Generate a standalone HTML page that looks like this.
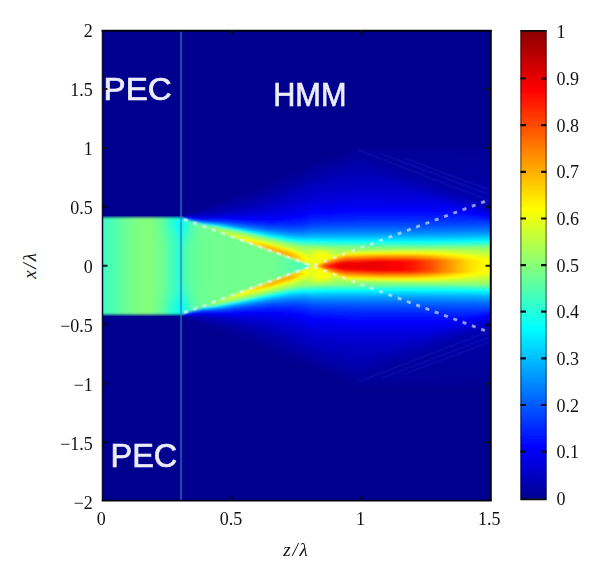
<!DOCTYPE html>
<html lang="en"><head><meta charset="utf-8"><title>Field intensity |E| in slit / HMM</title>
<style>html,body{margin:0;padding:0;background:#fff}body{width:600px;height:582px;overflow:hidden}svg{display:block}.t{font-family:"Liberation Serif","DejaVu Serif",serif;font-size:18px;fill:#111}.i{font-family:"Liberation Serif","DejaVu Serif",serif;font-size:19px;font-style:italic;fill:#111}.w{font-family:"Liberation Sans","DejaVu Sans",sans-serif;fill:#ececfa;stroke:#ececfa;stroke-width:0.7px}</style></head><body>
<svg width="600" height="582" viewBox="0 0 600 582">
<defs>
<clipPath id="cp"><rect x="102" y="30" width="389" height="471"/></clipPath>
<filter id="bl" x="-5%" y="-5%" width="110%" height="110%"><feGaussianBlur stdDeviation="0.9"/></filter>
<filter id="b2" x="-5%" y="-5%" width="110%" height="110%"><feGaussianBlur stdDeviation="0.55"/></filter>
<filter id="b3" x="-20%" y="-20%" width="140%" height="140%"><feGaussianBlur stdDeviation="0.45"/></filter>
<linearGradient id="cb" x1="0" y1="1" x2="0" y2="0"><stop offset="0" stop-color="#00008f"/><stop offset="0.1111" stop-color="#0000ff"/><stop offset="0.3651" stop-color="#00ffff"/><stop offset="0.619" stop-color="#ffff00"/><stop offset="0.873" stop-color="#ff0000"/><stop offset="1" stop-color="#8a0000"/></linearGradient>
<linearGradient id="g0" gradientUnits="userSpaceOnUse" x1="99" x2="494" y1="0" y2="0"><stop offset="0" stop-color="#3cffc3"/><stop offset="0.0076" stop-color="#3cffc3"/><stop offset="0.0329" stop-color="#4bffb4"/><stop offset="0.0658" stop-color="#69ff96"/><stop offset="0.0987" stop-color="#7fff80"/><stop offset="0.1291" stop-color="#84ff7b"/><stop offset="0.1595" stop-color="#6eff91"/><stop offset="0.2051" stop-color="#27ffd8"/><stop offset="0.2076" stop-color="#37ffc8"/><stop offset="0.2304" stop-color="#5fffa0"/><stop offset="0.2684" stop-color="#6eff91"/><stop offset="0.4329" stop-color="#73ff8c"/><stop offset="0.4962" stop-color="#5fa"/><stop offset="0.519" stop-color="#4fb"/><stop offset="0.5241" stop-color="#4effb1"/><stop offset="0.5316" stop-color="#70ff8f"/><stop offset="0.5367" stop-color="#c8ff37"/><stop offset="0.5392" stop-color="#d6ff29"/><stop offset="0.5443" stop-color="#e2ff1d"/><stop offset="0.5468" stop-color="#f9ff06"/><stop offset="0.5494" stop-color="#ffec00"/><stop offset="0.5544" stop-color="#ffb700"/><stop offset="0.562" stop-color="#f70"/><stop offset="0.5671" stop-color="#ff5200"/><stop offset="0.5722" stop-color="#ff3500"/><stop offset="0.6025" stop-color="#fc0000"/><stop offset="0.6101" stop-color="#e00"/><stop offset="0.7114" stop-color="#e00"/><stop offset="0.7544" stop-color="#f00"/><stop offset="0.7873" stop-color="#ff0d00"/><stop offset="0.838" stop-color="#ff4900"/><stop offset="0.8886" stop-color="#ff9a00"/><stop offset="0.9392" stop-color="#ffe000"/><stop offset="0.9797" stop-color="#ff0"/><stop offset="0.9924" stop-color="#f6ff09"/><stop offset="1" stop-color="#f6ff09"/></linearGradient>
<linearGradient id="g1" gradientUnits="userSpaceOnUse" x1="99" x2="494" y1="0" y2="0"><stop offset="0" stop-color="#3cffc3"/><stop offset="0.0076" stop-color="#3cffc3"/><stop offset="0.0329" stop-color="#4bffb4"/><stop offset="0.0658" stop-color="#69ff96"/><stop offset="0.0987" stop-color="#7fff80"/><stop offset="0.1291" stop-color="#84ff7b"/><stop offset="0.1595" stop-color="#6eff91"/><stop offset="0.2051" stop-color="#27ffd8"/><stop offset="0.2076" stop-color="#37ffc8"/><stop offset="0.2304" stop-color="#5fffa0"/><stop offset="0.2684" stop-color="#6eff91"/><stop offset="0.4329" stop-color="#73ff8c"/><stop offset="0.4962" stop-color="#5fa"/><stop offset="0.519" stop-color="#4fb"/><stop offset="0.5215" stop-color="#47ffb8"/><stop offset="0.5266" stop-color="#57ffa8"/><stop offset="0.5291" stop-color="#b3ff4c"/><stop offset="0.5342" stop-color="#d8ff27"/><stop offset="0.5392" stop-color="#ebff14"/><stop offset="0.5494" stop-color="#f1ff0e"/><stop offset="0.5519" stop-color="#fbff04"/><stop offset="0.5544" stop-color="#ffed00"/><stop offset="0.562" stop-color="#ffa700"/><stop offset="0.5722" stop-color="#f50"/><stop offset="0.5873" stop-color="#ff1b00"/><stop offset="0.6025" stop-color="#fc0000"/><stop offset="0.6101" stop-color="#e00"/><stop offset="0.7114" stop-color="#e00"/><stop offset="0.7544" stop-color="#f00"/><stop offset="0.7873" stop-color="#ff0d00"/><stop offset="0.838" stop-color="#ff4900"/><stop offset="0.8886" stop-color="#ff9a00"/><stop offset="0.9392" stop-color="#ffe000"/><stop offset="0.9797" stop-color="#ff0"/><stop offset="0.9924" stop-color="#f6ff09"/><stop offset="1" stop-color="#f6ff09"/></linearGradient>
<linearGradient id="g2" gradientUnits="userSpaceOnUse" x1="99" x2="494" y1="0" y2="0"><stop offset="0" stop-color="#3cffc3"/><stop offset="0.0076" stop-color="#3cffc3"/><stop offset="0.0329" stop-color="#4bffb4"/><stop offset="0.0658" stop-color="#69ff96"/><stop offset="0.0987" stop-color="#7fff80"/><stop offset="0.1291" stop-color="#84ff7b"/><stop offset="0.1595" stop-color="#6eff91"/><stop offset="0.2051" stop-color="#27ffd8"/><stop offset="0.2076" stop-color="#37ffc8"/><stop offset="0.2304" stop-color="#5fffa0"/><stop offset="0.2684" stop-color="#6eff91"/><stop offset="0.4329" stop-color="#73ff8c"/><stop offset="0.4962" stop-color="#5fa"/><stop offset="0.519" stop-color="#4fb"/><stop offset="0.5215" stop-color="#47ffb8"/><stop offset="0.5241" stop-color="#bcff43"/><stop offset="0.5291" stop-color="#e5ff1a"/><stop offset="0.5316" stop-color="#f2ff0d"/><stop offset="0.5392" stop-color="#ebff14"/><stop offset="0.557" stop-color="#f7ff08"/><stop offset="0.5595" stop-color="#fff000"/><stop offset="0.5722" stop-color="#ff8100"/><stop offset="0.5747" stop-color="#ff7400"/><stop offset="0.5873" stop-color="#ff3e00"/><stop offset="0.6051" stop-color="#ff0200"/><stop offset="0.6076" stop-color="#f80000"/><stop offset="0.6101" stop-color="#f00000"/><stop offset="0.6127" stop-color="#e00"/><stop offset="0.7114" stop-color="#e00"/><stop offset="0.7544" stop-color="#f00"/><stop offset="0.7873" stop-color="#ff0d00"/><stop offset="0.838" stop-color="#ff4900"/><stop offset="0.8886" stop-color="#ff9a00"/><stop offset="0.9392" stop-color="#ffe000"/><stop offset="0.9797" stop-color="#ff0"/><stop offset="0.9924" stop-color="#f6ff09"/><stop offset="1" stop-color="#f6ff09"/></linearGradient>
<linearGradient id="g3" gradientUnits="userSpaceOnUse" x1="99" x2="494" y1="0" y2="0"><stop offset="0" stop-color="#3cffc3"/><stop offset="0.0076" stop-color="#3cffc3"/><stop offset="0.0329" stop-color="#4bffb4"/><stop offset="0.0658" stop-color="#69ff96"/><stop offset="0.0987" stop-color="#7fff80"/><stop offset="0.1291" stop-color="#84ff7b"/><stop offset="0.1595" stop-color="#6eff91"/><stop offset="0.2051" stop-color="#27ffd8"/><stop offset="0.2076" stop-color="#37ffc8"/><stop offset="0.2304" stop-color="#5fffa0"/><stop offset="0.2684" stop-color="#6eff91"/><stop offset="0.4329" stop-color="#73ff8c"/><stop offset="0.4962" stop-color="#5fa"/><stop offset="0.5139" stop-color="#46ffb9"/><stop offset="0.5165" stop-color="#b6ff49"/><stop offset="0.5215" stop-color="#eaff15"/><stop offset="0.5241" stop-color="#feff01"/><stop offset="0.5266" stop-color="#feff01"/><stop offset="0.5392" stop-color="#ebff14"/><stop offset="0.562" stop-color="#faff05"/><stop offset="0.5646" stop-color="#fff100"/><stop offset="0.5722" stop-color="#ffad00"/><stop offset="0.5848" stop-color="#ff6b00"/><stop offset="0.6101" stop-color="#ff1200"/><stop offset="0.6228" stop-color="#fd0000"/><stop offset="0.6532" stop-color="#e00"/><stop offset="0.7114" stop-color="#e00"/><stop offset="0.7544" stop-color="#f00"/><stop offset="0.7873" stop-color="#ff0d00"/><stop offset="0.838" stop-color="#ff4900"/><stop offset="0.8886" stop-color="#ff9a00"/><stop offset="0.9392" stop-color="#ffe000"/><stop offset="0.9797" stop-color="#ff0"/><stop offset="0.9924" stop-color="#f6ff09"/><stop offset="1" stop-color="#f6ff09"/></linearGradient>
<linearGradient id="g4" gradientUnits="userSpaceOnUse" x1="99" x2="494" y1="0" y2="0"><stop offset="0" stop-color="#3cffc3"/><stop offset="0.0076" stop-color="#3cffc3"/><stop offset="0.0329" stop-color="#4bffb4"/><stop offset="0.0658" stop-color="#69ff96"/><stop offset="0.0987" stop-color="#7fff80"/><stop offset="0.1291" stop-color="#84ff7b"/><stop offset="0.1595" stop-color="#6eff91"/><stop offset="0.2051" stop-color="#27ffd8"/><stop offset="0.2076" stop-color="#37ffc8"/><stop offset="0.2304" stop-color="#5fffa0"/><stop offset="0.2684" stop-color="#6eff91"/><stop offset="0.4329" stop-color="#73ff8c"/><stop offset="0.4962" stop-color="#5fa"/><stop offset="0.5063" stop-color="#4dffb2"/><stop offset="0.5089" stop-color="#b3ff4c"/><stop offset="0.5139" stop-color="#f0ff0f"/><stop offset="0.5165" stop-color="#fff400"/><stop offset="0.519" stop-color="#ffef00"/><stop offset="0.5241" stop-color="#fffc00"/><stop offset="0.5392" stop-color="#eaff15"/><stop offset="0.5671" stop-color="#fdff02"/><stop offset="0.5696" stop-color="#fff000"/><stop offset="0.5747" stop-color="#ffc800"/><stop offset="0.5848" stop-color="#ff8f00"/><stop offset="0.6101" stop-color="#f30"/><stop offset="0.6228" stop-color="#ff1c00"/><stop offset="0.681" stop-color="#fe0000"/><stop offset="0.7114" stop-color="#e00"/><stop offset="0.7544" stop-color="#f00"/><stop offset="0.7873" stop-color="#ff0d00"/><stop offset="0.838" stop-color="#ff4900"/><stop offset="0.8886" stop-color="#ff9a00"/><stop offset="0.9392" stop-color="#ffe000"/><stop offset="0.9797" stop-color="#ff0"/><stop offset="0.9924" stop-color="#f6ff09"/><stop offset="1" stop-color="#f6ff09"/></linearGradient>
<linearGradient id="g5" gradientUnits="userSpaceOnUse" x1="99" x2="494" y1="0" y2="0"><stop offset="0" stop-color="#3cffc3"/><stop offset="0.0076" stop-color="#3cffc3"/><stop offset="0.0329" stop-color="#4bffb4"/><stop offset="0.0658" stop-color="#69ff96"/><stop offset="0.0987" stop-color="#7fff80"/><stop offset="0.1291" stop-color="#84ff7b"/><stop offset="0.1595" stop-color="#6eff91"/><stop offset="0.2051" stop-color="#27ffd8"/><stop offset="0.2076" stop-color="#37ffc8"/><stop offset="0.2304" stop-color="#5fffa0"/><stop offset="0.2684" stop-color="#6eff91"/><stop offset="0.4329" stop-color="#73ff8c"/><stop offset="0.4987" stop-color="#53ffac"/><stop offset="0.5013" stop-color="#adff52"/><stop offset="0.5063" stop-color="#f5ff0a"/><stop offset="0.5089" stop-color="#ffea00"/><stop offset="0.5114" stop-color="#ffe000"/><stop offset="0.5241" stop-color="#fffd00"/><stop offset="0.5392" stop-color="#eaff15"/><stop offset="0.5696" stop-color="#feff01"/><stop offset="0.5722" stop-color="#fffe00"/><stop offset="0.5848" stop-color="#ffb200"/><stop offset="0.6" stop-color="#ff7800"/><stop offset="0.6101" stop-color="#ff5400"/><stop offset="0.6228" stop-color="#ff3a00"/><stop offset="0.7114" stop-color="#ff0f00"/><stop offset="0.7873" stop-color="#ff1e00"/><stop offset="0.838" stop-color="#ff5100"/><stop offset="0.9392" stop-color="#ffe000"/><stop offset="0.9797" stop-color="#ff0"/><stop offset="0.9924" stop-color="#f6ff09"/><stop offset="1" stop-color="#f6ff09"/></linearGradient>
<linearGradient id="g6" gradientUnits="userSpaceOnUse" x1="99" x2="494" y1="0" y2="0"><stop offset="0" stop-color="#3cffc3"/><stop offset="0.0076" stop-color="#3cffc3"/><stop offset="0.0329" stop-color="#4bffb4"/><stop offset="0.0658" stop-color="#69ff96"/><stop offset="0.0987" stop-color="#7fff80"/><stop offset="0.1291" stop-color="#84ff7b"/><stop offset="0.1595" stop-color="#6eff91"/><stop offset="0.2051" stop-color="#27ffd8"/><stop offset="0.2076" stop-color="#37ffc8"/><stop offset="0.2304" stop-color="#5fffa0"/><stop offset="0.2684" stop-color="#6eff91"/><stop offset="0.4329" stop-color="#73ff8c"/><stop offset="0.4937" stop-color="#56ffa9"/><stop offset="0.4962" stop-color="#d0ff2f"/><stop offset="0.4987" stop-color="#f8ff07"/><stop offset="0.5013" stop-color="#ffe100"/><stop offset="0.5038" stop-color="#ffcf00"/><stop offset="0.5241" stop-color="#ff0"/><stop offset="0.5316" stop-color="#f0ff0f"/><stop offset="0.5392" stop-color="#e9ff16"/><stop offset="0.5696" stop-color="#feff01"/><stop offset="0.5722" stop-color="#fffe00"/><stop offset="0.5772" stop-color="#f6ff09"/><stop offset="0.5797" stop-color="#fff600"/><stop offset="0.5848" stop-color="#ffd600"/><stop offset="0.6101" stop-color="#ff7500"/><stop offset="0.6228" stop-color="#ff5800"/><stop offset="0.7114" stop-color="#ff2f00"/><stop offset="0.7873" stop-color="#ff3b00"/><stop offset="0.838" stop-color="#ff6900"/><stop offset="0.9392" stop-color="#ffe900"/><stop offset="0.9722" stop-color="#ff0"/><stop offset="0.9924" stop-color="#f2ff0d"/><stop offset="1" stop-color="#f2ff0d"/></linearGradient>
<linearGradient id="g7" gradientUnits="userSpaceOnUse" x1="99" x2="494" y1="0" y2="0"><stop offset="0" stop-color="#3cffc3"/><stop offset="0.0076" stop-color="#3cffc3"/><stop offset="0.0329" stop-color="#4bffb4"/><stop offset="0.0658" stop-color="#69ff96"/><stop offset="0.0987" stop-color="#7fff80"/><stop offset="0.1291" stop-color="#84ff7b"/><stop offset="0.1595" stop-color="#6eff91"/><stop offset="0.2051" stop-color="#27ffd8"/><stop offset="0.2076" stop-color="#37ffc8"/><stop offset="0.2304" stop-color="#5fffa0"/><stop offset="0.2684" stop-color="#6eff91"/><stop offset="0.4329" stop-color="#73ff8c"/><stop offset="0.4861" stop-color="#5affa5"/><stop offset="0.4886" stop-color="#cbff34"/><stop offset="0.4911" stop-color="#faff05"/><stop offset="0.4937" stop-color="#ffda00"/><stop offset="0.4962" stop-color="#ffbf00"/><stop offset="0.5165" stop-color="#fff100"/><stop offset="0.5241" stop-color="#fdff02"/><stop offset="0.5392" stop-color="#e7ff18"/><stop offset="0.5696" stop-color="#feff01"/><stop offset="0.5722" stop-color="#fffe00"/><stop offset="0.5797" stop-color="#f1ff0e"/><stop offset="0.5823" stop-color="#f3ff0c"/><stop offset="0.5848" stop-color="#fffa00"/><stop offset="0.6101" stop-color="#ff9500"/><stop offset="0.6228" stop-color="#ff7600"/><stop offset="0.7114" stop-color="#ff4f00"/><stop offset="0.7873" stop-color="#ff5900"/><stop offset="0.838" stop-color="#ff8100"/><stop offset="0.9392" stop-color="#fff500"/><stop offset="0.957" stop-color="#ff0"/><stop offset="0.9924" stop-color="#e9ff16"/><stop offset="1" stop-color="#e9ff16"/></linearGradient>
<linearGradient id="g8" gradientUnits="userSpaceOnUse" x1="99" x2="494" y1="0" y2="0"><stop offset="0" stop-color="#3cffc3"/><stop offset="0.0076" stop-color="#3cffc3"/><stop offset="0.0329" stop-color="#4bffb4"/><stop offset="0.0658" stop-color="#69ff96"/><stop offset="0.0987" stop-color="#7fff80"/><stop offset="0.1291" stop-color="#84ff7b"/><stop offset="0.1595" stop-color="#6eff91"/><stop offset="0.2051" stop-color="#27ffd8"/><stop offset="0.2076" stop-color="#37ffc8"/><stop offset="0.2304" stop-color="#5fffa0"/><stop offset="0.2684" stop-color="#6eff91"/><stop offset="0.4329" stop-color="#73ff8c"/><stop offset="0.4785" stop-color="#5effa1"/><stop offset="0.481" stop-color="#c2ff3d"/><stop offset="0.4835" stop-color="#f9ff06"/><stop offset="0.4861" stop-color="#ffd400"/><stop offset="0.4886" stop-color="#ffaf00"/><stop offset="0.5215" stop-color="#fffe00"/><stop offset="0.5316" stop-color="#e9ff16"/><stop offset="0.5392" stop-color="#e2ff1d"/><stop offset="0.5544" stop-color="#f5ff0a"/><stop offset="0.5696" stop-color="#feff01"/><stop offset="0.5722" stop-color="#fffe00"/><stop offset="0.5848" stop-color="#e7ff18"/><stop offset="0.5873" stop-color="#ecff13"/><stop offset="0.5899" stop-color="#f6ff09"/><stop offset="0.5924" stop-color="#fffd00"/><stop offset="0.6101" stop-color="#ffb600"/><stop offset="0.6228" stop-color="#ff9500"/><stop offset="0.7114" stop-color="#ff6f00"/><stop offset="0.7873" stop-color="#ff7600"/><stop offset="0.838" stop-color="#f90"/><stop offset="0.9367" stop-color="#fffe00"/><stop offset="0.9924" stop-color="#e1ff1e"/><stop offset="1" stop-color="#e1ff1e"/></linearGradient>
<linearGradient id="g9" gradientUnits="userSpaceOnUse" x1="99" x2="494" y1="0" y2="0"><stop offset="0" stop-color="#3cffc3"/><stop offset="0.0076" stop-color="#3cffc3"/><stop offset="0.0329" stop-color="#4bffb4"/><stop offset="0.0658" stop-color="#69ff96"/><stop offset="0.0987" stop-color="#7fff80"/><stop offset="0.1291" stop-color="#84ff7b"/><stop offset="0.1595" stop-color="#6eff91"/><stop offset="0.2051" stop-color="#27ffd8"/><stop offset="0.2076" stop-color="#37ffc8"/><stop offset="0.2304" stop-color="#5fffa0"/><stop offset="0.2684" stop-color="#6eff91"/><stop offset="0.4329" stop-color="#73ff8c"/><stop offset="0.4709" stop-color="#61ff9e"/><stop offset="0.4734" stop-color="#b3ff4c"/><stop offset="0.4759" stop-color="#ebff14"/><stop offset="0.4785" stop-color="#ffdb00"/><stop offset="0.481" stop-color="#ffa400"/><stop offset="0.4835" stop-color="#ffa500"/><stop offset="0.519" stop-color="#fdff02"/><stop offset="0.5291" stop-color="#e4ff1b"/><stop offset="0.5367" stop-color="#deff21"/><stop offset="0.5544" stop-color="#f5ff0a"/><stop offset="0.5722" stop-color="#fffe00"/><stop offset="0.5899" stop-color="#df2"/><stop offset="0.5924" stop-color="#deff21"/><stop offset="0.6" stop-color="#feff01"/><stop offset="0.6101" stop-color="#ffd700"/><stop offset="0.6228" stop-color="#ffb300"/><stop offset="0.7114" stop-color="#ff8f00"/><stop offset="0.7873" stop-color="#ff9300"/><stop offset="0.838" stop-color="#ffb100"/><stop offset="0.9241" stop-color="#ff0"/><stop offset="0.9392" stop-color="#f2ff0d"/><stop offset="0.9924" stop-color="#d8ff27"/><stop offset="1" stop-color="#d8ff27"/></linearGradient>
<linearGradient id="g10" gradientUnits="userSpaceOnUse" x1="99" x2="494" y1="0" y2="0"><stop offset="0" stop-color="#3cffc3"/><stop offset="0.0076" stop-color="#3cffc3"/><stop offset="0.0329" stop-color="#4bffb4"/><stop offset="0.0658" stop-color="#69ff96"/><stop offset="0.0987" stop-color="#7fff80"/><stop offset="0.1291" stop-color="#84ff7b"/><stop offset="0.1595" stop-color="#6eff91"/><stop offset="0.2051" stop-color="#27ffd8"/><stop offset="0.2076" stop-color="#37ffc8"/><stop offset="0.2304" stop-color="#5fffa0"/><stop offset="0.2684" stop-color="#6eff91"/><stop offset="0.4329" stop-color="#73ff8c"/><stop offset="0.4658" stop-color="#64ff9b"/><stop offset="0.4684" stop-color="#df2"/><stop offset="0.4709" stop-color="#ffe800"/><stop offset="0.4734" stop-color="#ffaf00"/><stop offset="0.4759" stop-color="#ffa600"/><stop offset="0.4835" stop-color="#fa0"/><stop offset="0.5063" stop-color="#ffe200"/><stop offset="0.5139" stop-color="#feff01"/><stop offset="0.5241" stop-color="#e1ff1e"/><stop offset="0.5342" stop-color="#d8ff27"/><stop offset="0.5392" stop-color="#daff25"/><stop offset="0.5544" stop-color="#f5ff0a"/><stop offset="0.5722" stop-color="#fffe00"/><stop offset="0.5873" stop-color="#e2ff1d"/><stop offset="0.5949" stop-color="#ceff31"/><stop offset="0.5975" stop-color="#d1ff2e"/><stop offset="0.6076" stop-color="#fcff03"/><stop offset="0.6101" stop-color="#fff800"/><stop offset="0.6228" stop-color="#ffd100"/><stop offset="0.7114" stop-color="#ffaf00"/><stop offset="0.7873" stop-color="#ffb000"/><stop offset="0.838" stop-color="#ffc900"/><stop offset="0.9063" stop-color="#ff0"/><stop offset="0.9392" stop-color="#e6ff19"/><stop offset="1" stop-color="#d0ff2f"/></linearGradient>
<linearGradient id="g11" gradientUnits="userSpaceOnUse" x1="99" x2="494" y1="0" y2="0"><stop offset="0" stop-color="#3cffc3"/><stop offset="0.0076" stop-color="#3cffc3"/><stop offset="0.0329" stop-color="#4bffb4"/><stop offset="0.0658" stop-color="#69ff96"/><stop offset="0.0987" stop-color="#7fff80"/><stop offset="0.1291" stop-color="#84ff7b"/><stop offset="0.1595" stop-color="#6eff91"/><stop offset="0.2051" stop-color="#27ffd8"/><stop offset="0.2076" stop-color="#37ffc8"/><stop offset="0.2304" stop-color="#5fffa0"/><stop offset="0.2684" stop-color="#6eff91"/><stop offset="0.4329" stop-color="#73ff8c"/><stop offset="0.4582" stop-color="#67ff98"/><stop offset="0.4608" stop-color="#cfff30"/><stop offset="0.4633" stop-color="#fff500"/><stop offset="0.4658" stop-color="#fb0"/><stop offset="0.4684" stop-color="#ffa800"/><stop offset="0.4835" stop-color="#ffae00"/><stop offset="0.4962" stop-color="#ffcd00"/><stop offset="0.5089" stop-color="#feff01"/><stop offset="0.5165" stop-color="#e4ff1b"/><stop offset="0.5215" stop-color="#d8ff27"/><stop offset="0.5316" stop-color="#d0ff2f"/><stop offset="0.5392" stop-color="#d6ff29"/><stop offset="0.5544" stop-color="#f4ff0b"/><stop offset="0.5722" stop-color="#fffe00"/><stop offset="0.6" stop-color="#bf4"/><stop offset="0.6177" stop-color="#ff0"/><stop offset="0.6228" stop-color="#ffef00"/><stop offset="0.7114" stop-color="#ffcf00"/><stop offset="0.7873" stop-color="#ffcd00"/><stop offset="0.838" stop-color="#ffe100"/><stop offset="0.8835" stop-color="#ff0"/><stop offset="0.9392" stop-color="#daff25"/><stop offset="1" stop-color="#c7ff38"/></linearGradient>
<linearGradient id="g12" gradientUnits="userSpaceOnUse" x1="99" x2="494" y1="0" y2="0"><stop offset="0" stop-color="#3cffc3"/><stop offset="0.0076" stop-color="#3cffc3"/><stop offset="0.0329" stop-color="#4bffb4"/><stop offset="0.0658" stop-color="#69ff96"/><stop offset="0.0987" stop-color="#7fff80"/><stop offset="0.1291" stop-color="#84ff7b"/><stop offset="0.1595" stop-color="#6eff91"/><stop offset="0.2051" stop-color="#27ffd8"/><stop offset="0.2076" stop-color="#37ffc8"/><stop offset="0.2304" stop-color="#5fffa0"/><stop offset="0.2684" stop-color="#6eff91"/><stop offset="0.4329" stop-color="#73ff8c"/><stop offset="0.4506" stop-color="#6bff94"/><stop offset="0.4532" stop-color="#bfff40"/><stop offset="0.4557" stop-color="#fcff03"/><stop offset="0.4582" stop-color="#ffc700"/><stop offset="0.4608" stop-color="#ffa900"/><stop offset="0.4835" stop-color="#ffb200"/><stop offset="0.4886" stop-color="#ffbf00"/><stop offset="0.4987" stop-color="#fe0"/><stop offset="0.5038" stop-color="#fcff03"/><stop offset="0.5165" stop-color="#d3ff2c"/><stop offset="0.5266" stop-color="#c6ff39"/><stop offset="0.5367" stop-color="#ceff31"/><stop offset="0.5544" stop-color="#f4ff0b"/><stop offset="0.562" stop-color="#f7ff08"/><stop offset="0.5722" stop-color="#f2ff0d"/><stop offset="0.5899" stop-color="#c7ff38"/><stop offset="0.6051" stop-color="#aeff51"/><stop offset="0.6228" stop-color="#f1ff0e"/><stop offset="0.6658" stop-color="#ff0"/><stop offset="0.7114" stop-color="#ffef00"/><stop offset="0.7873" stop-color="#ffea00"/><stop offset="0.8506" stop-color="#ff0"/><stop offset="0.9392" stop-color="#ceff31"/><stop offset="1" stop-color="#bfff40"/></linearGradient>
<linearGradient id="g13" gradientUnits="userSpaceOnUse" x1="99" x2="494" y1="0" y2="0"><stop offset="0" stop-color="#3cffc3"/><stop offset="0.0076" stop-color="#3cffc3"/><stop offset="0.0329" stop-color="#4bffb4"/><stop offset="0.0658" stop-color="#69ff96"/><stop offset="0.0987" stop-color="#7fff80"/><stop offset="0.1291" stop-color="#84ff7b"/><stop offset="0.1595" stop-color="#6eff91"/><stop offset="0.2051" stop-color="#27ffd8"/><stop offset="0.2076" stop-color="#37ffc8"/><stop offset="0.2304" stop-color="#5fffa0"/><stop offset="0.2684" stop-color="#6eff91"/><stop offset="0.4329" stop-color="#73ff8c"/><stop offset="0.4456" stop-color="#6dff92"/><stop offset="0.4481" stop-color="#edff12"/><stop offset="0.4506" stop-color="#ffd400"/><stop offset="0.4532" stop-color="#fa0"/><stop offset="0.481" stop-color="#ffb900"/><stop offset="0.4962" stop-color="#fffc00"/><stop offset="0.4987" stop-color="#f9ff06"/><stop offset="0.5089" stop-color="#d7ff28"/><stop offset="0.519" stop-color="#beff41"/><stop offset="0.5291" stop-color="#bfff40"/><stop offset="0.5392" stop-color="#d0ff2f"/><stop offset="0.5468" stop-color="#e4ff1b"/><stop offset="0.557" stop-color="#e9ff16"/><stop offset="0.5722" stop-color="#e1ff1e"/><stop offset="0.5873" stop-color="#c1ff3e"/><stop offset="0.6076" stop-color="#a3ff5c"/><stop offset="0.6101" stop-color="#a3ff5c"/><stop offset="0.6228" stop-color="#d3ff2c"/><stop offset="0.7114" stop-color="#efff10"/><stop offset="0.7873" stop-color="#f7ff08"/><stop offset="0.838" stop-color="#edff12"/><stop offset="0.9392" stop-color="#c3ff3c"/><stop offset="1" stop-color="#b6ff49"/></linearGradient>
<linearGradient id="g14" gradientUnits="userSpaceOnUse" x1="99" x2="494" y1="0" y2="0"><stop offset="0" stop-color="#3cffc3"/><stop offset="0.0076" stop-color="#3cffc3"/><stop offset="0.0329" stop-color="#4bffb4"/><stop offset="0.0658" stop-color="#69ff96"/><stop offset="0.0987" stop-color="#7fff80"/><stop offset="0.1291" stop-color="#84ff7b"/><stop offset="0.1595" stop-color="#6eff91"/><stop offset="0.2051" stop-color="#27ffd8"/><stop offset="0.2076" stop-color="#37ffc8"/><stop offset="0.2304" stop-color="#5fffa0"/><stop offset="0.2684" stop-color="#6eff91"/><stop offset="0.438" stop-color="#71ff8e"/><stop offset="0.4405" stop-color="#deff21"/><stop offset="0.443" stop-color="#ffe100"/><stop offset="0.4456" stop-color="#ffab00"/><stop offset="0.4709" stop-color="#ffb600"/><stop offset="0.4835" stop-color="#ffe000"/><stop offset="0.4911" stop-color="#fdff02"/><stop offset="0.5063" stop-color="#caff35"/><stop offset="0.519" stop-color="#b6ff49"/><stop offset="0.5291" stop-color="#b8ff47"/><stop offset="0.5468" stop-color="#d5ff2a"/><stop offset="0.557" stop-color="#d8ff27"/><stop offset="0.5722" stop-color="#d1ff2e"/><stop offset="0.5924" stop-color="#afff50"/><stop offset="0.6152" stop-color="#97ff68"/><stop offset="0.6228" stop-color="#b5ff4a"/><stop offset="0.7114" stop-color="#cfff30"/><stop offset="0.7873" stop-color="#daff25"/><stop offset="0.838" stop-color="#d5ff2a"/><stop offset="0.9392" stop-color="#b7ff48"/><stop offset="1" stop-color="#aeff51"/></linearGradient>
<linearGradient id="g15" gradientUnits="userSpaceOnUse" x1="99" x2="494" y1="0" y2="0"><stop offset="0" stop-color="#3cffc3"/><stop offset="0.0076" stop-color="#3cffc3"/><stop offset="0.0329" stop-color="#4bffb4"/><stop offset="0.0658" stop-color="#69ff96"/><stop offset="0.0987" stop-color="#7fff80"/><stop offset="0.1291" stop-color="#84ff7b"/><stop offset="0.1595" stop-color="#6eff91"/><stop offset="0.2051" stop-color="#27ffd8"/><stop offset="0.2076" stop-color="#37ffc8"/><stop offset="0.2304" stop-color="#5fffa0"/><stop offset="0.2684" stop-color="#6eff91"/><stop offset="0.4304" stop-color="#73ff8c"/><stop offset="0.4329" stop-color="#ceff31"/><stop offset="0.4354" stop-color="#ffef00"/><stop offset="0.438" stop-color="#ffb000"/><stop offset="0.4405" stop-color="#ffae00"/><stop offset="0.4633" stop-color="#ffb800"/><stop offset="0.4835" stop-color="#fffe00"/><stop offset="0.4962" stop-color="#d2ff2d"/><stop offset="0.5165" stop-color="#afff50"/><stop offset="0.5266" stop-color="#adff52"/><stop offset="0.5468" stop-color="#c5ff3a"/><stop offset="0.557" stop-color="#c7ff38"/><stop offset="0.5722" stop-color="#c1ff3e"/><stop offset="0.5924" stop-color="#a6ff59"/><stop offset="0.6203" stop-color="#8fff70"/><stop offset="0.6228" stop-color="#97ff68"/><stop offset="0.7114" stop-color="#afff50"/><stop offset="0.7873" stop-color="#bdff42"/><stop offset="0.843" stop-color="#bdff42"/><stop offset="0.9392" stop-color="#abff54"/><stop offset="1" stop-color="#a5ff5a"/></linearGradient>
<linearGradient id="g16" gradientUnits="userSpaceOnUse" x1="99" x2="494" y1="0" y2="0"><stop offset="0" stop-color="#3cffc3"/><stop offset="0.0076" stop-color="#3cffc3"/><stop offset="0.0329" stop-color="#4bffb4"/><stop offset="0.0658" stop-color="#69ff96"/><stop offset="0.0987" stop-color="#7fff80"/><stop offset="0.1291" stop-color="#84ff7b"/><stop offset="0.1595" stop-color="#6eff91"/><stop offset="0.2051" stop-color="#27ffd8"/><stop offset="0.2076" stop-color="#37ffc8"/><stop offset="0.2304" stop-color="#5fffa0"/><stop offset="0.2684" stop-color="#6eff91"/><stop offset="0.4228" stop-color="#73ff8c"/><stop offset="0.4253" stop-color="#bf4"/><stop offset="0.4278" stop-color="#fdff02"/><stop offset="0.4304" stop-color="#ffbf00"/><stop offset="0.4329" stop-color="#ffaf00"/><stop offset="0.4557" stop-color="#ffba00"/><stop offset="0.4734" stop-color="#fffa00"/><stop offset="0.4759" stop-color="#fbff04"/><stop offset="0.4861" stop-color="#d9ff26"/><stop offset="0.4911" stop-color="#ceff31"/><stop offset="0.5165" stop-color="#a6ff59"/><stop offset="0.5266" stop-color="#a4ff5b"/><stop offset="0.5468" stop-color="#b5ff4a"/><stop offset="0.5544" stop-color="#b7ff48"/><stop offset="0.5722" stop-color="#b0ff4f"/><stop offset="0.5924" stop-color="#9dff62"/><stop offset="0.6228" stop-color="#8bff74"/><stop offset="0.6835" stop-color="#87ff78"/><stop offset="0.7873" stop-color="#a0ff5f"/><stop offset="0.838" stop-color="#a5ff5a"/><stop offset="1" stop-color="#9dff62"/></linearGradient>
<linearGradient id="g17" gradientUnits="userSpaceOnUse" x1="99" x2="494" y1="0" y2="0"><stop offset="0" stop-color="#3cffc3"/><stop offset="0.0076" stop-color="#3cffc3"/><stop offset="0.0329" stop-color="#4bffb4"/><stop offset="0.0658" stop-color="#69ff96"/><stop offset="0.0987" stop-color="#7fff80"/><stop offset="0.1291" stop-color="#84ff7b"/><stop offset="0.1595" stop-color="#6eff91"/><stop offset="0.2051" stop-color="#27ffd8"/><stop offset="0.2076" stop-color="#36ffc9"/><stop offset="0.2304" stop-color="#5fffa0"/><stop offset="0.2684" stop-color="#6eff91"/><stop offset="0.4177" stop-color="#73ff8c"/><stop offset="0.4203" stop-color="#e9ff16"/><stop offset="0.4228" stop-color="#ffd300"/><stop offset="0.4253" stop-color="#ffb800"/><stop offset="0.4329" stop-color="#ffb400"/><stop offset="0.4481" stop-color="#ffbc00"/><stop offset="0.4658" stop-color="#ff0"/><stop offset="0.4759" stop-color="#dcff23"/><stop offset="0.4911" stop-color="#c0ff3f"/><stop offset="0.5089" stop-color="#a6ff59"/><stop offset="0.5215" stop-color="#9bff64"/><stop offset="0.5544" stop-color="#a6ff59"/><stop offset="0.6127" stop-color="#8cff73"/><stop offset="0.6608" stop-color="#87ff78"/><stop offset="0.8076" stop-color="#87ff78"/><stop offset="0.8835" stop-color="#93ff6c"/><stop offset="1" stop-color="#94ff6b"/></linearGradient>
<linearGradient id="g18" gradientUnits="userSpaceOnUse" x1="99" x2="494" y1="0" y2="0"><stop offset="0" stop-color="#3cffc3"/><stop offset="0.0076" stop-color="#3cffc3"/><stop offset="0.0329" stop-color="#4bffb4"/><stop offset="0.0658" stop-color="#69ff96"/><stop offset="0.0987" stop-color="#7fff80"/><stop offset="0.1291" stop-color="#84ff7b"/><stop offset="0.1595" stop-color="#6eff91"/><stop offset="0.2051" stop-color="#27ffd8"/><stop offset="0.2076" stop-color="#35ffca"/><stop offset="0.2304" stop-color="#5effa1"/><stop offset="0.2684" stop-color="#6eff91"/><stop offset="0.4101" stop-color="#73ff8c"/><stop offset="0.4127" stop-color="#d6ff29"/><stop offset="0.4152" stop-color="#ffe700"/><stop offset="0.4177" stop-color="#ffc000"/><stop offset="0.4329" stop-color="#ffb900"/><stop offset="0.4405" stop-color="#ffc000"/><stop offset="0.4557" stop-color="#fffb00"/><stop offset="0.4582" stop-color="#faff05"/><stop offset="0.4684" stop-color="#d8ff27"/><stop offset="0.4886" stop-color="#b6ff49"/><stop offset="0.5063" stop-color="#9eff61"/><stop offset="0.5215" stop-color="#93ff6c"/><stop offset="0.5519" stop-color="#95ff6a"/><stop offset="0.5848" stop-color="#8bff74"/><stop offset="0.6608" stop-color="#82ff7d"/><stop offset="0.8127" stop-color="#7bff84"/><stop offset="1" stop-color="#8cff73"/></linearGradient>
<linearGradient id="g19" gradientUnits="userSpaceOnUse" x1="99" x2="494" y1="0" y2="0"><stop offset="0" stop-color="#3cffc3"/><stop offset="0.0076" stop-color="#3cffc3"/><stop offset="0.0329" stop-color="#4bffb4"/><stop offset="0.0658" stop-color="#69ff96"/><stop offset="0.0987" stop-color="#7fff80"/><stop offset="0.1291" stop-color="#84ff7b"/><stop offset="0.1595" stop-color="#6eff91"/><stop offset="0.2051" stop-color="#27ffd8"/><stop offset="0.2076" stop-color="#34ffcb"/><stop offset="0.2304" stop-color="#5effa1"/><stop offset="0.2684" stop-color="#6eff91"/><stop offset="0.4025" stop-color="#72ff8d"/><stop offset="0.4051" stop-color="#c4ff3b"/><stop offset="0.4076" stop-color="#fffb00"/><stop offset="0.4101" stop-color="#ffc900"/><stop offset="0.4304" stop-color="#ffc000"/><stop offset="0.4329" stop-color="#ffc300"/><stop offset="0.4481" stop-color="#feff01"/><stop offset="0.4582" stop-color="#d9ff26"/><stop offset="0.4861" stop-color="#abff54"/><stop offset="0.5013" stop-color="#98ff67"/><stop offset="0.5165" stop-color="#8cff73"/><stop offset="0.5392" stop-color="#87ff78"/><stop offset="0.5848" stop-color="#74ff8b"/><stop offset="0.6608" stop-color="#69ff96"/><stop offset="0.8127" stop-color="#62ff9d"/><stop offset="0.9139" stop-color="#69ff96"/><stop offset="1" stop-color="#7bff84"/></linearGradient>
<linearGradient id="g20" gradientUnits="userSpaceOnUse" x1="99" x2="494" y1="0" y2="0"><stop offset="0" stop-color="#3cffc3"/><stop offset="0.0076" stop-color="#3cffc3"/><stop offset="0.0329" stop-color="#4bffb4"/><stop offset="0.0658" stop-color="#69ff96"/><stop offset="0.0987" stop-color="#7fff80"/><stop offset="0.1291" stop-color="#84ff7b"/><stop offset="0.1595" stop-color="#6eff91"/><stop offset="0.2051" stop-color="#27ffd8"/><stop offset="0.2076" stop-color="#3fc"/><stop offset="0.2304" stop-color="#5dffa2"/><stop offset="0.2684" stop-color="#6eff91"/><stop offset="0.3949" stop-color="#72ff8d"/><stop offset="0.4" stop-color="#f0ff0f"/><stop offset="0.4025" stop-color="#ffd100"/><stop offset="0.4228" stop-color="#ffc800"/><stop offset="0.4253" stop-color="#ffcd00"/><stop offset="0.438" stop-color="#fffc00"/><stop offset="0.4405" stop-color="#f9ff06"/><stop offset="0.4481" stop-color="#dcff23"/><stop offset="0.4633" stop-color="#bfff40"/><stop offset="0.4835" stop-color="#9fff60"/><stop offset="0.5089" stop-color="#86ff79"/><stop offset="0.5165" stop-color="#78ff87"/><stop offset="0.5848" stop-color="#5bffa4"/><stop offset="0.6608" stop-color="#52ffad"/><stop offset="0.8127" stop-color="#4cffb3"/><stop offset="0.9139" stop-color="#52ffad"/><stop offset="1" stop-color="#62ff9d"/></linearGradient>
<linearGradient id="g21" gradientUnits="userSpaceOnUse" x1="99" x2="494" y1="0" y2="0"><stop offset="0" stop-color="#3cffc3"/><stop offset="0.0076" stop-color="#3cffc3"/><stop offset="0.0329" stop-color="#4bffb4"/><stop offset="0.0658" stop-color="#69ff96"/><stop offset="0.0987" stop-color="#7fff80"/><stop offset="0.1291" stop-color="#84ff7b"/><stop offset="0.1595" stop-color="#6eff91"/><stop offset="0.2051" stop-color="#27ffd8"/><stop offset="0.2076" stop-color="#31ffce"/><stop offset="0.2304" stop-color="#5cffa3"/><stop offset="0.2557" stop-color="#69ff96"/><stop offset="0.2684" stop-color="#6eff91"/><stop offset="0.3899" stop-color="#72ff8d"/><stop offset="0.3924" stop-color="#df2"/><stop offset="0.3949" stop-color="#ffe300"/><stop offset="0.3975" stop-color="#ffd900"/><stop offset="0.4152" stop-color="#ffd000"/><stop offset="0.4304" stop-color="#fcff03"/><stop offset="0.438" stop-color="#dfff20"/><stop offset="0.443" stop-color="#d2ff2d"/><stop offset="0.4734" stop-color="#9eff61"/><stop offset="0.4911" stop-color="#8f7"/><stop offset="0.5165" stop-color="#5affa5"/><stop offset="0.5848" stop-color="#43ffbc"/><stop offset="0.8127" stop-color="#36ffc9"/><stop offset="0.9139" stop-color="#3cffc3"/><stop offset="1" stop-color="#4cffb3"/></linearGradient>
<linearGradient id="g22" gradientUnits="userSpaceOnUse" x1="99" x2="494" y1="0" y2="0"><stop offset="0" stop-color="#3cffc3"/><stop offset="0.0076" stop-color="#3cffc3"/><stop offset="0.0329" stop-color="#4bffb4"/><stop offset="0.0658" stop-color="#69ff96"/><stop offset="0.0987" stop-color="#7fff80"/><stop offset="0.1291" stop-color="#84ff7b"/><stop offset="0.1595" stop-color="#6eff91"/><stop offset="0.2051" stop-color="#26ffd9"/><stop offset="0.2076" stop-color="#2fffd0"/><stop offset="0.2304" stop-color="#5bffa4"/><stop offset="0.2532" stop-color="#68ff97"/><stop offset="0.2684" stop-color="#6eff91"/><stop offset="0.3823" stop-color="#72ff8d"/><stop offset="0.3848" stop-color="#cbff34"/><stop offset="0.3873" stop-color="#fff600"/><stop offset="0.3899" stop-color="#ffe100"/><stop offset="0.4076" stop-color="#ffd900"/><stop offset="0.4177" stop-color="#fff900"/><stop offset="0.4203" stop-color="#fcff03"/><stop offset="0.4304" stop-color="#d8ff27"/><stop offset="0.4354" stop-color="#ceff31"/><stop offset="0.4759" stop-color="#8aff75"/><stop offset="0.4835" stop-color="#75ff8a"/><stop offset="0.4937" stop-color="#62ff9d"/><stop offset="0.5165" stop-color="#3effc1"/><stop offset="0.5848" stop-color="#2dffd2"/><stop offset="0.8127" stop-color="#2fd"/><stop offset="0.9139" stop-color="#28ffd7"/><stop offset="1" stop-color="#36ffc9"/></linearGradient>
<linearGradient id="g23" gradientUnits="userSpaceOnUse" x1="99" x2="494" y1="0" y2="0"><stop offset="0" stop-color="#3cffc3"/><stop offset="0.0076" stop-color="#3cffc3"/><stop offset="0.0329" stop-color="#4bffb4"/><stop offset="0.0658" stop-color="#69ff96"/><stop offset="0.0987" stop-color="#7fff80"/><stop offset="0.1291" stop-color="#84ff7b"/><stop offset="0.1595" stop-color="#6eff91"/><stop offset="0.2051" stop-color="#25ffda"/><stop offset="0.2304" stop-color="#5affa5"/><stop offset="0.2532" stop-color="#68ff97"/><stop offset="0.2684" stop-color="#6eff91"/><stop offset="0.3747" stop-color="#72ff8d"/><stop offset="0.3772" stop-color="#b9ff46"/><stop offset="0.3797" stop-color="#f5ff0a"/><stop offset="0.3823" stop-color="#ffea00"/><stop offset="0.4" stop-color="#ffe100"/><stop offset="0.4076" stop-color="#fffa00"/><stop offset="0.4101" stop-color="#fcff03"/><stop offset="0.4228" stop-color="#d1ff2e"/><stop offset="0.4658" stop-color="#89ff76"/><stop offset="0.4835" stop-color="#53ffac"/><stop offset="0.5165" stop-color="#25ffda"/><stop offset="0.5848" stop-color="#19ffe6"/><stop offset="0.8127" stop-color="#10ffef"/><stop offset="0.9139" stop-color="#15ffea"/><stop offset="1" stop-color="#2fd"/></linearGradient>
<linearGradient id="g24" gradientUnits="userSpaceOnUse" x1="99" x2="494" y1="0" y2="0"><stop offset="0" stop-color="#3cffc3"/><stop offset="0.0076" stop-color="#3cffc3"/><stop offset="0.0329" stop-color="#4bffb4"/><stop offset="0.0658" stop-color="#69ff96"/><stop offset="0.0987" stop-color="#7fff80"/><stop offset="0.1291" stop-color="#84ff7b"/><stop offset="0.1595" stop-color="#6dff92"/><stop offset="0.2051" stop-color="#24ffdb"/><stop offset="0.2304" stop-color="#59ffa6"/><stop offset="0.2532" stop-color="#68ff97"/><stop offset="0.2684" stop-color="#6eff91"/><stop offset="0.3671" stop-color="#71ff8e"/><stop offset="0.3722" stop-color="#e2ff1d"/><stop offset="0.3747" stop-color="#fff300"/><stop offset="0.3924" stop-color="#ffea00"/><stop offset="0.3975" stop-color="#fffb00"/><stop offset="0.4" stop-color="#fbff04"/><stop offset="0.4127" stop-color="#d0ff2f"/><stop offset="0.4557" stop-color="#86ff79"/><stop offset="0.4684" stop-color="#5cffa3"/><stop offset="0.4835" stop-color="#34ffcb"/><stop offset="0.5165" stop-color="#0dfff2"/><stop offset="0.5392" stop-color="#0ffff0"/><stop offset="0.5848" stop-color="#05fffa"/><stop offset="0.8506" stop-color="#0ff"/><stop offset="0.9139" stop-color="#03fffc"/><stop offset="1" stop-color="#10ffef"/></linearGradient>
<linearGradient id="g25" gradientUnits="userSpaceOnUse" x1="99" x2="494" y1="0" y2="0"><stop offset="0" stop-color="#3cffc3"/><stop offset="0.0076" stop-color="#3cffc3"/><stop offset="0.0329" stop-color="#4bffb4"/><stop offset="0.0658" stop-color="#69ff96"/><stop offset="0.0987" stop-color="#7fff80"/><stop offset="0.1291" stop-color="#84ff7b"/><stop offset="0.1595" stop-color="#6dff92"/><stop offset="0.2051" stop-color="#23ffdc"/><stop offset="0.2304" stop-color="#58ffa7"/><stop offset="0.2532" stop-color="#68ff97"/><stop offset="0.2684" stop-color="#6eff91"/><stop offset="0.362" stop-color="#71ff8e"/><stop offset="0.3646" stop-color="#d0ff2f"/><stop offset="0.3671" stop-color="#fffb00"/><stop offset="0.3823" stop-color="#fff300"/><stop offset="0.3848" stop-color="#fff400"/><stop offset="0.3873" stop-color="#fffc00"/><stop offset="0.4051" stop-color="#c9ff36"/><stop offset="0.443" stop-color="#89ff76"/><stop offset="0.4608" stop-color="#4effb1"/><stop offset="0.4785" stop-color="#2fd"/><stop offset="0.4835" stop-color="#18ffe7"/><stop offset="0.5063" stop-color="#0ff"/><stop offset="0.5165" stop-color="#00f7ff"/><stop offset="0.5392" stop-color="#00faff"/><stop offset="0.5848" stop-color="#00f2ff"/><stop offset="0.8127" stop-color="#00ecff"/><stop offset="0.9139" stop-color="#00f1ff"/><stop offset="1" stop-color="#00fdff"/></linearGradient>
<linearGradient id="g26" gradientUnits="userSpaceOnUse" x1="99" x2="494" y1="0" y2="0"><stop offset="0" stop-color="#3cffc3"/><stop offset="0.0076" stop-color="#3cffc3"/><stop offset="0.0329" stop-color="#4bffb4"/><stop offset="0.0658" stop-color="#69ff96"/><stop offset="0.0987" stop-color="#7fff80"/><stop offset="0.1291" stop-color="#84ff7b"/><stop offset="0.1595" stop-color="#6cff93"/><stop offset="0.2051" stop-color="#21ffde"/><stop offset="0.2304" stop-color="#56ffa9"/><stop offset="0.2532" stop-color="#68ff97"/><stop offset="0.2684" stop-color="#6eff91"/><stop offset="0.3544" stop-color="#71ff8e"/><stop offset="0.357" stop-color="#beff41"/><stop offset="0.3595" stop-color="#f6ff09"/><stop offset="0.3671" stop-color="#feff01"/><stop offset="0.3772" stop-color="#fffd00"/><stop offset="0.3949" stop-color="#c8ff37"/><stop offset="0.4329" stop-color="#87ff78"/><stop offset="0.443" stop-color="#60ff9f"/><stop offset="0.4557" stop-color="#3affc5"/><stop offset="0.4709" stop-color="#16ffe9"/><stop offset="0.4835" stop-color="#00fdff"/><stop offset="0.5165" stop-color="#00e3ff"/><stop offset="0.5392" stop-color="#00e8ff"/><stop offset="0.5848" stop-color="#00e1ff"/><stop offset="0.8127" stop-color="#0df"/><stop offset="0.9139" stop-color="#00e2ff"/><stop offset="1" stop-color="#00ecff"/></linearGradient>
<linearGradient id="g27" gradientUnits="userSpaceOnUse" x1="99" x2="494" y1="0" y2="0"><stop offset="0" stop-color="#3cffc3"/><stop offset="0.0076" stop-color="#3cffc3"/><stop offset="0.0329" stop-color="#4bffb4"/><stop offset="0.0658" stop-color="#69ff96"/><stop offset="0.0987" stop-color="#7fff80"/><stop offset="0.1291" stop-color="#84ff7b"/><stop offset="0.1595" stop-color="#6cff93"/><stop offset="0.2051" stop-color="#1fffe0"/><stop offset="0.2304" stop-color="#5fa"/><stop offset="0.2506" stop-color="#67ff98"/><stop offset="0.2684" stop-color="#6eff91"/><stop offset="0.3468" stop-color="#71ff8e"/><stop offset="0.3494" stop-color="#adff52"/><stop offset="0.3519" stop-color="#e2ff1d"/><stop offset="0.3544" stop-color="#efff10"/><stop offset="0.3671" stop-color="#faff05"/><stop offset="0.3696" stop-color="#f7ff08"/><stop offset="0.3873" stop-color="#c1ff3e"/><stop offset="0.4228" stop-color="#86ff79"/><stop offset="0.4329" stop-color="#5affa5"/><stop offset="0.443" stop-color="#39ffc6"/><stop offset="0.4557" stop-color="#19ffe6"/><stop offset="0.4684" stop-color="#00feff"/><stop offset="0.4835" stop-color="#00e6ff"/><stop offset="0.5165" stop-color="#00d0ff"/><stop offset="0.5392" stop-color="#00d7ff"/><stop offset="0.5848" stop-color="#00d1ff"/><stop offset="0.8127" stop-color="#00ceff"/><stop offset="0.9139" stop-color="#00d3ff"/><stop offset="1" stop-color="#0df"/></linearGradient>
<linearGradient id="g28" gradientUnits="userSpaceOnUse" x1="99" x2="494" y1="0" y2="0"><stop offset="0" stop-color="#3cffc3"/><stop offset="0.0076" stop-color="#3cffc3"/><stop offset="0.0329" stop-color="#4bffb4"/><stop offset="0.0658" stop-color="#69ff96"/><stop offset="0.0987" stop-color="#7fff80"/><stop offset="0.1291" stop-color="#84ff7b"/><stop offset="0.1595" stop-color="#6bff94"/><stop offset="0.2051" stop-color="#1effe1"/><stop offset="0.2304" stop-color="#54ffab"/><stop offset="0.2506" stop-color="#67ff98"/><stop offset="0.2684" stop-color="#6eff91"/><stop offset="0.3392" stop-color="#71ff8e"/><stop offset="0.3418" stop-color="#9dff62"/><stop offset="0.3443" stop-color="#cfff30"/><stop offset="0.3468" stop-color="#e4ff1b"/><stop offset="0.3595" stop-color="#f0ff0f"/><stop offset="0.3646" stop-color="#e7ff18"/><stop offset="0.3797" stop-color="#bf4"/><stop offset="0.4101" stop-color="#8bff74"/><stop offset="0.4127" stop-color="#83ff7c"/><stop offset="0.4228" stop-color="#56ffa9"/><stop offset="0.4329" stop-color="#31ffce"/><stop offset="0.4532" stop-color="#0ff"/><stop offset="0.4835" stop-color="#00d0ff"/><stop offset="0.5165" stop-color="#00bfff"/><stop offset="0.5392" stop-color="#00c7ff"/><stop offset="0.5848" stop-color="#00c3ff"/><stop offset="0.8127" stop-color="#00c1ff"/><stop offset="0.9139" stop-color="#00c5ff"/><stop offset="1" stop-color="#00ceff"/></linearGradient>
<linearGradient id="g29" gradientUnits="userSpaceOnUse" x1="99" x2="494" y1="0" y2="0"><stop offset="0" stop-color="#3cffc3"/><stop offset="0.0076" stop-color="#3cffc3"/><stop offset="0.0329" stop-color="#4bffb4"/><stop offset="0.0658" stop-color="#69ff96"/><stop offset="0.0987" stop-color="#7fff80"/><stop offset="0.1291" stop-color="#84ff7b"/><stop offset="0.1595" stop-color="#6bff94"/><stop offset="0.2051" stop-color="#1cffe3"/><stop offset="0.2152" stop-color="#2effd1"/><stop offset="0.2304" stop-color="#52ffad"/><stop offset="0.2506" stop-color="#67ff98"/><stop offset="0.2684" stop-color="#6eff91"/><stop offset="0.3342" stop-color="#70ff8f"/><stop offset="0.3367" stop-color="#bdff42"/><stop offset="0.3392" stop-color="#d8ff27"/><stop offset="0.3519" stop-color="#e5ff1a"/><stop offset="0.3696" stop-color="#b9ff46"/><stop offset="0.4" stop-color="#8aff75"/><stop offset="0.4127" stop-color="#52ffad"/><stop offset="0.4228" stop-color="#2cffd3"/><stop offset="0.4329" stop-color="#0dfff2"/><stop offset="0.4405" stop-color="#00fbff"/><stop offset="0.4608" stop-color="#00d9ff"/><stop offset="0.4835" stop-color="#00bdff"/><stop offset="0.5165" stop-color="#00afff"/><stop offset="0.5392" stop-color="#00b9ff"/><stop offset="0.5848" stop-color="#00b5ff"/><stop offset="0.6608" stop-color="#00b7ff"/><stop offset="0.8127" stop-color="#00b4ff"/><stop offset="0.9139" stop-color="#00b7ff"/><stop offset="1" stop-color="#00c1ff"/></linearGradient>
<linearGradient id="g30" gradientUnits="userSpaceOnUse" x1="99" x2="494" y1="0" y2="0"><stop offset="0" stop-color="#3cffc3"/><stop offset="0.0076" stop-color="#3cffc3"/><stop offset="0.0329" stop-color="#4bffb4"/><stop offset="0.0658" stop-color="#69ff96"/><stop offset="0.0987" stop-color="#7fff80"/><stop offset="0.1291" stop-color="#84ff7b"/><stop offset="0.1595" stop-color="#6aff95"/><stop offset="0.2051" stop-color="#1affe5"/><stop offset="0.2152" stop-color="#2cffd3"/><stop offset="0.2304" stop-color="#51ffae"/><stop offset="0.2506" stop-color="#67ff98"/><stop offset="0.2684" stop-color="#6eff91"/><stop offset="0.3266" stop-color="#70ff8f"/><stop offset="0.3291" stop-color="#adff52"/><stop offset="0.3316" stop-color="#cdff32"/><stop offset="0.3443" stop-color="#d9ff26"/><stop offset="0.3595" stop-color="#b6ff49"/><stop offset="0.3899" stop-color="#89ff76"/><stop offset="0.4076" stop-color="#39ffc6"/><stop offset="0.4253" stop-color="#0ff"/><stop offset="0.443" stop-color="#00dbff"/><stop offset="0.4709" stop-color="#00b7ff"/><stop offset="0.4835" stop-color="#00abff"/><stop offset="0.5165" stop-color="#00a0ff"/><stop offset="0.5392" stop-color="#00abff"/><stop offset="0.8127" stop-color="#00a7ff"/><stop offset="0.9139" stop-color="#00abff"/><stop offset="1" stop-color="#00b4ff"/></linearGradient>
<linearGradient id="g31" gradientUnits="userSpaceOnUse" x1="99" x2="494" y1="0" y2="0"><stop offset="0" stop-color="#3cffc3"/><stop offset="0.0076" stop-color="#3cffc3"/><stop offset="0.0329" stop-color="#4bffb4"/><stop offset="0.0658" stop-color="#69ff96"/><stop offset="0.0987" stop-color="#7fff80"/><stop offset="0.1291" stop-color="#84ff7b"/><stop offset="0.1595" stop-color="#69ff96"/><stop offset="0.2051" stop-color="#18ffe7"/><stop offset="0.2152" stop-color="#2affd5"/><stop offset="0.2304" stop-color="#50ffaf"/><stop offset="0.2506" stop-color="#6f9"/><stop offset="0.2684" stop-color="#6eff91"/><stop offset="0.319" stop-color="#70ff8f"/><stop offset="0.3215" stop-color="#9eff61"/><stop offset="0.3241" stop-color="#c1ff3e"/><stop offset="0.3367" stop-color="#cf3"/><stop offset="0.3519" stop-color="#aeff51"/><stop offset="0.3797" stop-color="#8f7"/><stop offset="0.3949" stop-color="#3effc1"/><stop offset="0.4127" stop-color="#01fffe"/><stop offset="0.4329" stop-color="#00d0ff"/><stop offset="0.4582" stop-color="#00b0ff"/><stop offset="0.4835" stop-color="#009aff"/><stop offset="0.5165" stop-color="#0092ff"/><stop offset="0.5392" stop-color="#009eff"/><stop offset="0.8127" stop-color="#009cff"/><stop offset="1" stop-color="#00a7ff"/></linearGradient>
<linearGradient id="g32" gradientUnits="userSpaceOnUse" x1="99" x2="494" y1="0" y2="0"><stop offset="0" stop-color="#3cffc3"/><stop offset="0.0076" stop-color="#3cffc3"/><stop offset="0.0329" stop-color="#4bffb4"/><stop offset="0.0658" stop-color="#69ff96"/><stop offset="0.0987" stop-color="#7fff80"/><stop offset="0.1291" stop-color="#84ff7b"/><stop offset="0.1595" stop-color="#69ff96"/><stop offset="0.2051" stop-color="#15ffea"/><stop offset="0.2152" stop-color="#27ffd8"/><stop offset="0.2304" stop-color="#4effb1"/><stop offset="0.2481" stop-color="#64ff9b"/><stop offset="0.2684" stop-color="#6eff91"/><stop offset="0.3114" stop-color="#70ff8f"/><stop offset="0.3165" stop-color="#b5ff4a"/><stop offset="0.3266" stop-color="#c1ff3e"/><stop offset="0.3418" stop-color="#a9ff56"/><stop offset="0.3696" stop-color="#8f7"/><stop offset="0.3772" stop-color="#5cffa3"/><stop offset="0.3873" stop-color="#2dffd2"/><stop offset="0.4" stop-color="#01fffe"/><stop offset="0.4025" stop-color="#00f8ff"/><stop offset="0.4203" stop-color="#00ceff"/><stop offset="0.438" stop-color="#00b1ff"/><stop offset="0.4785" stop-color="#008eff"/><stop offset="0.5013" stop-color="#0087ff"/><stop offset="0.5165" stop-color="#0085ff"/><stop offset="0.5392" stop-color="#0091ff"/><stop offset="0.8127" stop-color="#0091ff"/><stop offset="1" stop-color="#009cff"/></linearGradient>
<linearGradient id="g33" gradientUnits="userSpaceOnUse" x1="99" x2="494" y1="0" y2="0"><stop offset="0" stop-color="#3cffc3"/><stop offset="0.0076" stop-color="#3cffc3"/><stop offset="0.0329" stop-color="#4bffb4"/><stop offset="0.0658" stop-color="#69ff96"/><stop offset="0.0987" stop-color="#7fff80"/><stop offset="0.1291" stop-color="#84ff7b"/><stop offset="0.1595" stop-color="#68ff97"/><stop offset="0.2051" stop-color="#13ffec"/><stop offset="0.2152" stop-color="#25ffda"/><stop offset="0.2304" stop-color="#4dffb2"/><stop offset="0.2481" stop-color="#64ff9b"/><stop offset="0.2684" stop-color="#6eff91"/><stop offset="0.3063" stop-color="#70ff8f"/><stop offset="0.3089" stop-color="#a4ff5b"/><stop offset="0.3114" stop-color="#adff52"/><stop offset="0.319" stop-color="#b6ff49"/><stop offset="0.3316" stop-color="#a4ff5b"/><stop offset="0.357" stop-color="#89ff76"/><stop offset="0.3595" stop-color="#81ff7e"/><stop offset="0.3696" stop-color="#4affb5"/><stop offset="0.3772" stop-color="#26ffd9"/><stop offset="0.3873" stop-color="#01fffe"/><stop offset="0.3899" stop-color="#00f8ff"/><stop offset="0.4101" stop-color="#00c6ff"/><stop offset="0.4329" stop-color="#00a0ff"/><stop offset="0.4557" stop-color="#008dff"/><stop offset="0.4835" stop-color="#007cff"/><stop offset="0.5165" stop-color="#0079ff"/><stop offset="0.5392" stop-color="#0086ff"/><stop offset="0.6608" stop-color="#008aff"/><stop offset="0.8127" stop-color="#0086ff"/><stop offset="1" stop-color="#0091ff"/></linearGradient>
<linearGradient id="g34" gradientUnits="userSpaceOnUse" x1="99" x2="494" y1="0" y2="0"><stop offset="0" stop-color="#3cffc3"/><stop offset="0.0076" stop-color="#3cffc3"/><stop offset="0.0329" stop-color="#4bffb4"/><stop offset="0.0658" stop-color="#69ff96"/><stop offset="0.0987" stop-color="#7fff80"/><stop offset="0.1291" stop-color="#84ff7b"/><stop offset="0.1595" stop-color="#67ff98"/><stop offset="0.2051" stop-color="#1fe"/><stop offset="0.2152" stop-color="#23ffdc"/><stop offset="0.2304" stop-color="#4cffb3"/><stop offset="0.2481" stop-color="#64ff9b"/><stop offset="0.2684" stop-color="#6eff91"/><stop offset="0.2987" stop-color="#6fff90"/><stop offset="0.3013" stop-color="#96ff69"/><stop offset="0.3038" stop-color="#a1ff5e"/><stop offset="0.3114" stop-color="#af5"/><stop offset="0.3392" stop-color="#8fff70"/><stop offset="0.3468" stop-color="#84ff7b"/><stop offset="0.357" stop-color="#4cffb3"/><stop offset="0.3671" stop-color="#1fffe0"/><stop offset="0.3747" stop-color="#02fffd"/><stop offset="0.3772" stop-color="#00f8ff"/><stop offset="0.3975" stop-color="#00c2ff"/><stop offset="0.4253" stop-color="#0095ff"/><stop offset="0.4456" stop-color="#0082ff"/><stop offset="0.4835" stop-color="#006fff"/><stop offset="0.5165" stop-color="#006eff"/><stop offset="0.5392" stop-color="#007bff"/><stop offset="0.6608" stop-color="#0080ff"/><stop offset="0.8127" stop-color="#007dff"/><stop offset="1" stop-color="#0086ff"/></linearGradient>
<linearGradient id="g35" gradientUnits="userSpaceOnUse" x1="99" x2="494" y1="0" y2="0"><stop offset="0" stop-color="#3cffc3"/><stop offset="0.0076" stop-color="#3cffc3"/><stop offset="0.0329" stop-color="#4bffb4"/><stop offset="0.0658" stop-color="#69ff96"/><stop offset="0.0987" stop-color="#7fff80"/><stop offset="0.1291" stop-color="#84ff7b"/><stop offset="0.1595" stop-color="#6f9"/><stop offset="0.2051" stop-color="#0ffff0"/><stop offset="0.2152" stop-color="#21ffde"/><stop offset="0.2304" stop-color="#4bffb4"/><stop offset="0.2481" stop-color="#64ff9b"/><stop offset="0.2684" stop-color="#6eff91"/><stop offset="0.2911" stop-color="#6fff90"/><stop offset="0.2937" stop-color="#8cff73"/><stop offset="0.2962" stop-color="#95ff6a"/><stop offset="0.3038" stop-color="#9eff61"/><stop offset="0.3342" stop-color="#87ff78"/><stop offset="0.3418" stop-color="#59ffa6"/><stop offset="0.3494" stop-color="#34ffcb"/><stop offset="0.362" stop-color="#01fffe"/><stop offset="0.3646" stop-color="#00f8ff"/><stop offset="0.3747" stop-color="#00d8ff"/><stop offset="0.3873" stop-color="#00b9ff"/><stop offset="0.4152" stop-color="#008cff"/><stop offset="0.4329" stop-color="#0079ff"/><stop offset="0.4835" stop-color="#0063ff"/><stop offset="0.5165" stop-color="#0063ff"/><stop offset="0.5392" stop-color="#0071ff"/><stop offset="0.6608" stop-color="#0076ff"/><stop offset="0.8127" stop-color="#0073ff"/><stop offset="1" stop-color="#007dff"/></linearGradient>
<linearGradient id="g36" gradientUnits="userSpaceOnUse" x1="99" x2="494" y1="0" y2="0"><stop offset="0" stop-color="#3cffc3"/><stop offset="0.0076" stop-color="#3cffc3"/><stop offset="0.0329" stop-color="#4bffb4"/><stop offset="0.0658" stop-color="#69ff96"/><stop offset="0.0987" stop-color="#7fff80"/><stop offset="0.1291" stop-color="#84ff7b"/><stop offset="0.1595" stop-color="#6f9"/><stop offset="0.2051" stop-color="#0dfff2"/><stop offset="0.2152" stop-color="#1fffe0"/><stop offset="0.2304" stop-color="#4affb5"/><stop offset="0.243" stop-color="#5dffa2"/><stop offset="0.2557" stop-color="#69ff96"/><stop offset="0.2835" stop-color="#6fff90"/><stop offset="0.2861" stop-color="#87ff78"/><stop offset="0.2987" stop-color="#93ff6c"/><stop offset="0.3215" stop-color="#8f7"/><stop offset="0.3291" stop-color="#5affa5"/><stop offset="0.3367" stop-color="#32ffcd"/><stop offset="0.3494" stop-color="#00fdff"/><stop offset="0.362" stop-color="#00d5ff"/><stop offset="0.3747" stop-color="#00b5ff"/><stop offset="0.3873" stop-color="#009dff"/><stop offset="0.4025" stop-color="#0087ff"/><stop offset="0.4329" stop-color="#0068ff"/><stop offset="0.4835" stop-color="#0057ff"/><stop offset="0.5165" stop-color="#0059ff"/><stop offset="0.5392" stop-color="#0067ff"/><stop offset="0.6608" stop-color="#006dff"/><stop offset="0.9139" stop-color="#006dff"/><stop offset="1" stop-color="#0073ff"/></linearGradient>
<linearGradient id="g37" gradientUnits="userSpaceOnUse" x1="99" x2="494" y1="0" y2="0"><stop offset="0" stop-color="#3cffc3"/><stop offset="0.0076" stop-color="#3cffc3"/><stop offset="0.0329" stop-color="#4bffb4"/><stop offset="0.0658" stop-color="#69ff96"/><stop offset="0.0987" stop-color="#7fff80"/><stop offset="0.1291" stop-color="#84ff7b"/><stop offset="0.1595" stop-color="#65ff9a"/><stop offset="0.1848" stop-color="#30ffcf"/><stop offset="0.2051" stop-color="#0bfff4"/><stop offset="0.2076" stop-color="#0dfff2"/><stop offset="0.2152" stop-color="#1dffe2"/><stop offset="0.2304" stop-color="#48ffb7"/><stop offset="0.2456" stop-color="#60ff9f"/><stop offset="0.2557" stop-color="#69ff96"/><stop offset="0.2785" stop-color="#6fff90"/><stop offset="0.281" stop-color="#7cff83"/><stop offset="0.2886" stop-color="#8f7"/><stop offset="0.3013" stop-color="#8bff74"/><stop offset="0.3089" stop-color="#8f7"/><stop offset="0.3215" stop-color="#3effc1"/><stop offset="0.3342" stop-color="#04fffb"/><stop offset="0.3367" stop-color="#00f9ff"/><stop offset="0.3494" stop-color="#00d0ff"/><stop offset="0.362" stop-color="#00b0ff"/><stop offset="0.3772" stop-color="#0092ff"/><stop offset="0.3924" stop-color="#007dff"/><stop offset="0.4329" stop-color="#0059ff"/><stop offset="0.4835" stop-color="#004dff"/><stop offset="0.5165" stop-color="#0050ff"/><stop offset="0.5392" stop-color="#005eff"/><stop offset="0.6608" stop-color="#0065ff"/><stop offset="0.9139" stop-color="#0065ff"/><stop offset="1" stop-color="#006bff"/></linearGradient>
<linearGradient id="g38" gradientUnits="userSpaceOnUse" x1="99" x2="494" y1="0" y2="0"><stop offset="0" stop-color="#3cffc3"/><stop offset="0.0076" stop-color="#3cffc3"/><stop offset="0.0329" stop-color="#4bffb4"/><stop offset="0.0658" stop-color="#69ff96"/><stop offset="0.0987" stop-color="#7fff80"/><stop offset="0.1291" stop-color="#84ff7b"/><stop offset="0.1595" stop-color="#65ff9a"/><stop offset="0.1848" stop-color="#2fffd0"/><stop offset="0.2051" stop-color="#0afff5"/><stop offset="0.2076" stop-color="#0bfff4"/><stop offset="0.2152" stop-color="#1bffe4"/><stop offset="0.2304" stop-color="#47ffb8"/><stop offset="0.243" stop-color="#5dffa2"/><stop offset="0.2532" stop-color="#68ff97"/><stop offset="0.2734" stop-color="#70ff8f"/><stop offset="0.2835" stop-color="#84ff7b"/><stop offset="0.2937" stop-color="#8f7"/><stop offset="0.2962" stop-color="#8f7"/><stop offset="0.2987" stop-color="#7eff81"/><stop offset="0.3089" stop-color="#3dffc2"/><stop offset="0.3215" stop-color="#0ff"/><stop offset="0.3342" stop-color="#00d2ff"/><stop offset="0.3468" stop-color="#00b0ff"/><stop offset="0.362" stop-color="#0090ff"/><stop offset="0.3747" stop-color="#007dff"/><stop offset="0.3949" stop-color="#06f"/><stop offset="0.4203" stop-color="#0053ff"/><stop offset="0.4329" stop-color="#004cff"/><stop offset="0.4608" stop-color="#0046ff"/><stop offset="0.4835" stop-color="#0043ff"/><stop offset="0.5165" stop-color="#0047ff"/><stop offset="0.5392" stop-color="#0056ff"/><stop offset="0.6608" stop-color="#005dff"/><stop offset="0.8127" stop-color="#005aff"/><stop offset="1" stop-color="#0062ff"/></linearGradient>
<linearGradient id="g39" gradientUnits="userSpaceOnUse" x1="99" x2="494" y1="0" y2="0"><stop offset="0" stop-color="#3cffc3"/><stop offset="0.0076" stop-color="#3cffc3"/><stop offset="0.0329" stop-color="#4bffb4"/><stop offset="0.0658" stop-color="#69ff96"/><stop offset="0.0987" stop-color="#7fff80"/><stop offset="0.1291" stop-color="#84ff7b"/><stop offset="0.1595" stop-color="#64ff9b"/><stop offset="0.1848" stop-color="#2effd1"/><stop offset="0.2051" stop-color="#08fff7"/><stop offset="0.2127" stop-color="#14ffeb"/><stop offset="0.2304" stop-color="#47ffb8"/><stop offset="0.2405" stop-color="#59ffa6"/><stop offset="0.2532" stop-color="#68ff97"/><stop offset="0.2658" stop-color="#6fff90"/><stop offset="0.2684" stop-color="#69ff96"/><stop offset="0.2759" stop-color="#81ff7e"/><stop offset="0.2835" stop-color="#87ff78"/><stop offset="0.2861" stop-color="#72ff8d"/><stop offset="0.2911" stop-color="#53ffac"/><stop offset="0.3063" stop-color="#07fff8"/><stop offset="0.3089" stop-color="#00fbff"/><stop offset="0.3215" stop-color="#00cdff"/><stop offset="0.3342" stop-color="#0af"/><stop offset="0.3468" stop-color="#008fff"/><stop offset="0.362" stop-color="#0075ff"/><stop offset="0.3924" stop-color="#0056ff"/><stop offset="0.4329" stop-color="#003fff"/><stop offset="0.4835" stop-color="#003aff"/><stop offset="0.5165" stop-color="#003fff"/><stop offset="0.5392" stop-color="#004dff"/><stop offset="0.6608" stop-color="#05f"/><stop offset="0.8127" stop-color="#0053ff"/><stop offset="1" stop-color="#005aff"/></linearGradient>
<linearGradient id="g40" gradientUnits="userSpaceOnUse" x1="99" x2="494" y1="0" y2="0"><stop offset="0" stop-color="#3cffc3"/><stop offset="0.0076" stop-color="#3cffc3"/><stop offset="0.0329" stop-color="#4bffb4"/><stop offset="0.0658" stop-color="#69ff96"/><stop offset="0.0987" stop-color="#7fff80"/><stop offset="0.1291" stop-color="#84ff7b"/><stop offset="0.1595" stop-color="#64ff9b"/><stop offset="0.1848" stop-color="#2dffd2"/><stop offset="0.2051" stop-color="#07fff8"/><stop offset="0.2076" stop-color="#08fff7"/><stop offset="0.2152" stop-color="#19ffe6"/><stop offset="0.2304" stop-color="#46ffb9"/><stop offset="0.243" stop-color="#5cffa3"/><stop offset="0.2582" stop-color="#6aff95"/><stop offset="0.2608" stop-color="#5fffa0"/><stop offset="0.2658" stop-color="#7aff85"/><stop offset="0.2709" stop-color="#85ff7a"/><stop offset="0.2734" stop-color="#54ffab"/><stop offset="0.281" stop-color="#2dffd2"/><stop offset="0.2911" stop-color="#03fffc"/><stop offset="0.3089" stop-color="#00c7ff"/><stop offset="0.3215" stop-color="#00a4ff"/><stop offset="0.3367" stop-color="#0083ff"/><stop offset="0.3519" stop-color="#006bff"/><stop offset="0.3646" stop-color="#005bff"/><stop offset="0.3823" stop-color="#004cff"/><stop offset="0.4329" stop-color="#0034ff"/><stop offset="0.4835" stop-color="#0031ff"/><stop offset="0.5165" stop-color="#0037ff"/><stop offset="0.5392" stop-color="#0046ff"/><stop offset="0.6608" stop-color="#004eff"/><stop offset="0.8127" stop-color="#004cff"/><stop offset="1" stop-color="#0051ff"/></linearGradient>
<linearGradient id="g41" gradientUnits="userSpaceOnUse" x1="99" x2="494" y1="0" y2="0"><stop offset="0" stop-color="#3cffc3"/><stop offset="0.0076" stop-color="#3cffc3"/><stop offset="0.0329" stop-color="#4bffb4"/><stop offset="0.0658" stop-color="#69ff96"/><stop offset="0.0987" stop-color="#7fff80"/><stop offset="0.1291" stop-color="#84ff7b"/><stop offset="0.1595" stop-color="#63ff9c"/><stop offset="0.1848" stop-color="#2cffd3"/><stop offset="0.2051" stop-color="#06fff9"/><stop offset="0.2127" stop-color="#1fe"/><stop offset="0.2304" stop-color="#45ffba"/><stop offset="0.2405" stop-color="#58ffa7"/><stop offset="0.2506" stop-color="#6f9"/><stop offset="0.2532" stop-color="#5affa5"/><stop offset="0.2557" stop-color="#6f9"/><stop offset="0.2582" stop-color="#79ff86"/><stop offset="0.2608" stop-color="#84ff7b"/><stop offset="0.2633" stop-color="#1dffe2"/><stop offset="0.2684" stop-color="#08fff7"/><stop offset="0.2709" stop-color="#00fdff"/><stop offset="0.2861" stop-color="#00ceff"/><stop offset="0.3038" stop-color="#00a5ff"/><stop offset="0.3266" stop-color="#0078ff"/><stop offset="0.3443" stop-color="#005dff"/><stop offset="0.3646" stop-color="#0047ff"/><stop offset="0.3747" stop-color="#0040ff"/><stop offset="0.4329" stop-color="#0029ff"/><stop offset="0.4835" stop-color="#0029ff"/><stop offset="0.5165" stop-color="#0030ff"/><stop offset="0.5392" stop-color="#003fff"/><stop offset="0.6608" stop-color="#0047ff"/><stop offset="1" stop-color="#0048ff"/></linearGradient>
<linearGradient id="g42" gradientUnits="userSpaceOnUse" x1="99" x2="494" y1="0" y2="0"><stop offset="0" stop-color="#3cffc3"/><stop offset="0.0076" stop-color="#3cffc3"/><stop offset="0.0329" stop-color="#4bffb4"/><stop offset="0.0658" stop-color="#69ff96"/><stop offset="0.0987" stop-color="#7fff80"/><stop offset="0.1291" stop-color="#84ff7b"/><stop offset="0.1595" stop-color="#63ff9c"/><stop offset="0.1848" stop-color="#2bffd4"/><stop offset="0.2051" stop-color="#05fffa"/><stop offset="0.2076" stop-color="#06fff9"/><stop offset="0.2152" stop-color="#17ffe8"/><stop offset="0.2304" stop-color="#45ffba"/><stop offset="0.243" stop-color="#5cffa3"/><stop offset="0.2456" stop-color="#53ffac"/><stop offset="0.2481" stop-color="#5fffa0"/><stop offset="0.2506" stop-color="#78ff87"/><stop offset="0.2532" stop-color="#85ff7a"/><stop offset="0.2557" stop-color="#00f2ff"/><stop offset="0.2633" stop-color="#00c3ff"/><stop offset="0.2734" stop-color="#00acff"/><stop offset="0.2937" stop-color="#0089ff"/><stop offset="0.3342" stop-color="#0053ff"/><stop offset="0.3646" stop-color="#0036ff"/><stop offset="0.4329" stop-color="#0020ff"/><stop offset="0.4835" stop-color="#02f"/><stop offset="0.5165" stop-color="#0029ff"/><stop offset="0.5392" stop-color="#0038ff"/><stop offset="0.6608" stop-color="#0040ff"/><stop offset="0.8127" stop-color="#003eff"/><stop offset="0.9722" stop-color="#0043ff"/><stop offset="1" stop-color="#003eff"/></linearGradient>
<linearGradient id="g43" gradientUnits="userSpaceOnUse" x1="99" x2="494" y1="0" y2="0"><stop offset="0" stop-color="#3cffc3"/><stop offset="0.0076" stop-color="#3cffc3"/><stop offset="0.0329" stop-color="#4bffb4"/><stop offset="0.0658" stop-color="#69ff96"/><stop offset="0.0987" stop-color="#7fff80"/><stop offset="0.1291" stop-color="#84ff7b"/><stop offset="0.1595" stop-color="#63ff9c"/><stop offset="0.1848" stop-color="#2bffd4"/><stop offset="0.2051" stop-color="#04fffb"/><stop offset="0.2127" stop-color="#10ffef"/><stop offset="0.2304" stop-color="#4fb"/><stop offset="0.238" stop-color="#58ffa7"/><stop offset="0.2405" stop-color="#57ffa8"/><stop offset="0.243" stop-color="#76ff89"/><stop offset="0.2456" stop-color="#86ff79"/><stop offset="0.2481" stop-color="#00c7ff"/><stop offset="0.2557" stop-color="#009dff"/><stop offset="0.2633" stop-color="#0080ff"/><stop offset="0.2734" stop-color="#0074ff"/><stop offset="0.3595" stop-color="#002aff"/><stop offset="0.4051" stop-color="#001cff"/><stop offset="0.4329" stop-color="#0017ff"/><stop offset="0.4835" stop-color="#001bff"/><stop offset="0.5165" stop-color="#0023ff"/><stop offset="0.5392" stop-color="#0031ff"/><stop offset="0.6608" stop-color="#003aff"/><stop offset="0.8127" stop-color="#0038ff"/><stop offset="0.9646" stop-color="#003dff"/><stop offset="1" stop-color="#0034ff"/></linearGradient>
<linearGradient id="g44" gradientUnits="userSpaceOnUse" x1="99" x2="494" y1="0" y2="0"><stop offset="0" stop-color="#3cffc3"/><stop offset="0.0076" stop-color="#3cffc3"/><stop offset="0.0329" stop-color="#4bffb4"/><stop offset="0.0658" stop-color="#69ff96"/><stop offset="0.0987" stop-color="#7fff80"/><stop offset="0.1291" stop-color="#84ff7b"/><stop offset="0.1595" stop-color="#63ff9c"/><stop offset="0.1848" stop-color="#2affd5"/><stop offset="0.2051" stop-color="#04fffb"/><stop offset="0.2076" stop-color="#05fffa"/><stop offset="0.2152" stop-color="#16ffe9"/><stop offset="0.2304" stop-color="#4fb"/><stop offset="0.2329" stop-color="#4effb1"/><stop offset="0.2354" stop-color="#74ff8b"/><stop offset="0.238" stop-color="#00aeff"/><stop offset="0.243" stop-color="#008eff"/><stop offset="0.2481" stop-color="#07f"/><stop offset="0.2557" stop-color="#005eff"/><stop offset="0.2633" stop-color="#004eff"/><stop offset="0.3696" stop-color="#0018ff"/><stop offset="0.4329" stop-color="#000fff"/><stop offset="0.5165" stop-color="#001dff"/><stop offset="0.5392" stop-color="#002bff"/><stop offset="0.6608" stop-color="#0034ff"/><stop offset="0.9595" stop-color="#0036ff"/><stop offset="1" stop-color="#002bff"/></linearGradient>
<linearGradient id="g45" gradientUnits="userSpaceOnUse" x1="99" x2="494" y1="0" y2="0"><stop offset="0" stop-color="#3cffc3"/><stop offset="0.0076" stop-color="#3cffc3"/><stop offset="0.0329" stop-color="#4bffb4"/><stop offset="0.0658" stop-color="#69ff96"/><stop offset="0.0987" stop-color="#7fff80"/><stop offset="0.1291" stop-color="#84ff7b"/><stop offset="0.1595" stop-color="#63ff9c"/><stop offset="0.1848" stop-color="#2affd5"/><stop offset="0.2051" stop-color="#04fffb"/><stop offset="0.2127" stop-color="#0ffff0"/><stop offset="0.2228" stop-color="#2cffd3"/><stop offset="0.2253" stop-color="#48ffb7"/><stop offset="0.2278" stop-color="#73ff8c"/><stop offset="0.2304" stop-color="#0085ff"/><stop offset="0.2354" stop-color="#0068ff"/><stop offset="0.2405" stop-color="#0053ff"/><stop offset="0.2532" stop-color="#0034ff"/><stop offset="0.2633" stop-color="#0027ff"/><stop offset="0.3215" stop-color="#001fff"/><stop offset="0.3646" stop-color="#000dff"/><stop offset="0.4329" stop-color="#0007ff"/><stop offset="0.5165" stop-color="#0017ff"/><stop offset="0.5392" stop-color="#0025ff"/><stop offset="0.6608" stop-color="#002eff"/><stop offset="0.9544" stop-color="#0030ff"/><stop offset="1" stop-color="#0021ff"/></linearGradient>
<linearGradient id="g46" gradientUnits="userSpaceOnUse" x1="99" x2="494" y1="0" y2="0"><stop offset="0" stop-color="#3cffc3"/><stop offset="0.0076" stop-color="#3cffc3"/><stop offset="0.0329" stop-color="#4bffb4"/><stop offset="0.0658" stop-color="#69ff96"/><stop offset="0.0987" stop-color="#7fff80"/><stop offset="0.1291" stop-color="#84ff7b"/><stop offset="0.1595" stop-color="#63ff9c"/><stop offset="0.1848" stop-color="#2affd5"/><stop offset="0.2051" stop-color="#04fffb"/><stop offset="0.2076" stop-color="#05fffa"/><stop offset="0.2152" stop-color="#16ffe9"/><stop offset="0.2203" stop-color="#72ff8d"/><stop offset="0.2228" stop-color="#0062ff"/><stop offset="0.2253" stop-color="#0052ff"/><stop offset="0.2329" stop-color="#03f"/><stop offset="0.2405" stop-color="#0020ff"/><stop offset="0.2506" stop-color="#0012ff"/><stop offset="0.2633" stop-color="#0009ff"/><stop offset="0.3215" stop-color="#000dff"/><stop offset="0.3646" stop-color="#0003ff"/><stop offset="0.4329" stop-color="#00f"/><stop offset="0.5165" stop-color="#01f"/><stop offset="0.5392" stop-color="#0020ff"/><stop offset="0.6608" stop-color="#0029ff"/><stop offset="0.9494" stop-color="#002aff"/><stop offset="1" stop-color="#0017ff"/></linearGradient>
<linearGradient id="g47" gradientUnits="userSpaceOnUse" x1="99" x2="494" y1="0" y2="0"><stop offset="0" stop-color="#3cffc3"/><stop offset="0.0076" stop-color="#3cffc3"/><stop offset="0.0329" stop-color="#4bffb4"/><stop offset="0.0658" stop-color="#69ff96"/><stop offset="0.0987" stop-color="#7fff80"/><stop offset="0.1291" stop-color="#84ff7b"/><stop offset="0.1595" stop-color="#63ff9c"/><stop offset="0.1848" stop-color="#2affd5"/><stop offset="0.2051" stop-color="#04fffb"/><stop offset="0.2076" stop-color="#05fffa"/><stop offset="0.2127" stop-color="#71ff8e"/><stop offset="0.2152" stop-color="#002fff"/><stop offset="0.2278" stop-color="#0010ff"/><stop offset="0.238" stop-color="#0000fe"/><stop offset="0.2481" stop-color="#0000f6"/><stop offset="0.2633" stop-color="#0000f1"/><stop offset="0.3241" stop-color="#0000fd"/><stop offset="0.3646" stop-color="#0000f8"/><stop offset="0.4329" stop-color="#0000f9"/><stop offset="0.4633" stop-color="#00f"/><stop offset="0.5165" stop-color="#000cff"/><stop offset="0.5392" stop-color="#001aff"/><stop offset="0.6608" stop-color="#0024ff"/><stop offset="0.9418" stop-color="#0025ff"/><stop offset="0.962" stop-color="#0020ff"/><stop offset="0.9924" stop-color="#000eff"/><stop offset="1" stop-color="#000eff"/></linearGradient>
<linearGradient id="g48" gradientUnits="userSpaceOnUse" x1="99" x2="494" y1="0" y2="0"><stop offset="0" stop-color="#00008f"/><stop offset="0.2051" stop-color="#00008f"/><stop offset="0.2076" stop-color="#00c"/><stop offset="0.2177" stop-color="#0000e2"/><stop offset="0.2278" stop-color="#0000eb"/><stop offset="0.243" stop-color="#0000e1"/><stop offset="0.2633" stop-color="#0000de"/><stop offset="0.3291" stop-color="#0000f0"/><stop offset="0.4329" stop-color="#0000f3"/><stop offset="0.4886" stop-color="#00f"/><stop offset="0.5165" stop-color="#0007ff"/><stop offset="0.5392" stop-color="#0015ff"/><stop offset="0.6608" stop-color="#001fff"/><stop offset="0.9367" stop-color="#001fff"/><stop offset="0.957" stop-color="#001aff"/><stop offset="0.9924" stop-color="#0004ff"/><stop offset="1" stop-color="#0004ff"/></linearGradient>
<linearGradient id="g49" gradientUnits="userSpaceOnUse" x1="99" x2="494" y1="0" y2="0"><stop offset="0" stop-color="#00008f"/><stop offset="0.2051" stop-color="#00008f"/><stop offset="0.2076" stop-color="#00009f"/><stop offset="0.2177" stop-color="#0000b7"/><stop offset="0.2278" stop-color="#0000cb"/><stop offset="0.2329" stop-color="#0000d1"/><stop offset="0.2633" stop-color="#0000d0"/><stop offset="0.3342" stop-color="#0000e6"/><stop offset="0.4329" stop-color="#00e"/><stop offset="0.5063" stop-color="#00f"/><stop offset="0.5392" stop-color="#0010ff"/><stop offset="0.6608" stop-color="#001aff"/><stop offset="0.9266" stop-color="#001aff"/><stop offset="0.9544" stop-color="#0014ff"/><stop offset="0.9873" stop-color="#0000fe"/><stop offset="1" stop-color="#0000fa"/></linearGradient>
<linearGradient id="g50" gradientUnits="userSpaceOnUse" x1="99" x2="494" y1="0" y2="0"><stop offset="0" stop-color="#00008f"/><stop offset="0.2051" stop-color="#00008f"/><stop offset="0.2127" stop-color="#000097"/><stop offset="0.2329" stop-color="#0000ba"/><stop offset="0.2405" stop-color="#0000c1"/><stop offset="0.2633" stop-color="#0000c4"/><stop offset="0.3392" stop-color="#00d"/><stop offset="0.4329" stop-color="#0000e9"/><stop offset="0.5215" stop-color="#0001ff"/><stop offset="0.5392" stop-color="#000cff"/><stop offset="0.6608" stop-color="#0015ff"/><stop offset="0.9215" stop-color="#0015ff"/><stop offset="0.9468" stop-color="#0010ff"/><stop offset="0.9747" stop-color="#00f"/><stop offset="0.9924" stop-color="#0000f2"/><stop offset="1" stop-color="#0000f2"/></linearGradient>
<linearGradient id="g51" gradientUnits="userSpaceOnUse" x1="99" x2="494" y1="0" y2="0"><stop offset="0" stop-color="#00008f"/><stop offset="0.2127" stop-color="#000090"/><stop offset="0.2481" stop-color="#0000b8"/><stop offset="0.3418" stop-color="#0000d5"/><stop offset="0.4329" stop-color="#0000e4"/><stop offset="0.5165" stop-color="#0000f9"/><stop offset="0.5266" stop-color="#00f"/><stop offset="0.5392" stop-color="#0007ff"/><stop offset="0.6608" stop-color="#01f"/><stop offset="0.9165" stop-color="#01f"/><stop offset="0.9367" stop-color="#000dff"/><stop offset="0.962" stop-color="#00f"/><stop offset="0.9924" stop-color="#0000ea"/><stop offset="1" stop-color="#0000ea"/></linearGradient>
<linearGradient id="g52" gradientUnits="userSpaceOnUse" x1="99" x2="494" y1="0" y2="0"><stop offset="0" stop-color="#00008f"/><stop offset="0.2177" stop-color="#00008f"/><stop offset="0.2253" stop-color="#000093"/><stop offset="0.2557" stop-color="#0000b2"/><stop offset="0.3823" stop-color="#0000d9"/><stop offset="0.4835" stop-color="#0000ec"/><stop offset="0.5165" stop-color="#0000f5"/><stop offset="0.5342" stop-color="#00f"/><stop offset="0.6608" stop-color="#000dff"/><stop offset="0.9063" stop-color="#000dff"/><stop offset="0.9494" stop-color="#00f"/><stop offset="0.9924" stop-color="#0000e2"/><stop offset="1" stop-color="#0000e2"/></linearGradient>
<linearGradient id="g53" gradientUnits="userSpaceOnUse" x1="99" x2="494" y1="0" y2="0"><stop offset="0" stop-color="#00008f"/><stop offset="0.2253" stop-color="#000090"/><stop offset="0.2608" stop-color="#0000ad"/><stop offset="0.3873" stop-color="#0000d5"/><stop offset="0.4329" stop-color="#0000db"/><stop offset="0.5165" stop-color="#0000f1"/><stop offset="0.5392" stop-color="#0000fe"/><stop offset="0.6608" stop-color="#0009ff"/><stop offset="0.9013" stop-color="#0009ff"/><stop offset="0.9342" stop-color="#00f"/><stop offset="0.9924" stop-color="#0000db"/><stop offset="1" stop-color="#0000db"/></linearGradient>
<linearGradient id="g54" gradientUnits="userSpaceOnUse" x1="99" x2="494" y1="0" y2="0"><stop offset="0" stop-color="#00008f"/><stop offset="0.2329" stop-color="#000090"/><stop offset="0.2684" stop-color="#00a"/><stop offset="0.3924" stop-color="#0000d1"/><stop offset="0.5165" stop-color="#00e"/><stop offset="0.5392" stop-color="#0000fb"/><stop offset="0.6608" stop-color="#0005ff"/><stop offset="0.8937" stop-color="#0005ff"/><stop offset="0.919" stop-color="#00f"/><stop offset="0.9468" stop-color="#0000f2"/><stop offset="0.9924" stop-color="#0000d4"/><stop offset="1" stop-color="#0000d4"/></linearGradient>
<linearGradient id="g55" gradientUnits="userSpaceOnUse" x1="99" x2="494" y1="0" y2="0"><stop offset="0" stop-color="#00008f"/><stop offset="0.238" stop-color="#00008f"/><stop offset="0.2734" stop-color="#0000a7"/><stop offset="0.3975" stop-color="#0000ce"/><stop offset="0.5165" stop-color="#0000ea"/><stop offset="0.5392" stop-color="#0000f7"/><stop offset="0.643" stop-color="#00f"/><stop offset="0.8987" stop-color="#00f"/><stop offset="0.9291" stop-color="#0000f5"/><stop offset="0.9924" stop-color="#0000ce"/><stop offset="1" stop-color="#0000ce"/></linearGradient>
<linearGradient id="g56" gradientUnits="userSpaceOnUse" x1="99" x2="494" y1="0" y2="0"><stop offset="0" stop-color="#00008f"/><stop offset="0.2456" stop-color="#000090"/><stop offset="0.281" stop-color="#0000a5"/><stop offset="0.4025" stop-color="#0000cb"/><stop offset="0.5165" stop-color="#0000e7"/><stop offset="0.5392" stop-color="#0000f4"/><stop offset="0.6608" stop-color="#0000fd"/><stop offset="0.8911" stop-color="#0000fc"/><stop offset="0.9241" stop-color="#0000f1"/><stop offset="0.9924" stop-color="#0000c8"/><stop offset="1" stop-color="#0000c8"/></linearGradient>
<linearGradient id="g57" gradientUnits="userSpaceOnUse" x1="99" x2="494" y1="0" y2="0"><stop offset="0" stop-color="#00008f"/><stop offset="0.2532" stop-color="#000090"/><stop offset="0.2861" stop-color="#0000a3"/><stop offset="0.3646" stop-color="#0000b8"/><stop offset="0.4076" stop-color="#0000c9"/><stop offset="0.5165" stop-color="#0000e4"/><stop offset="0.5392" stop-color="#0000f0"/><stop offset="0.6608" stop-color="#0000fa"/><stop offset="0.8861" stop-color="#0000f8"/><stop offset="0.919" stop-color="#0000ed"/><stop offset="0.9899" stop-color="#0000c4"/><stop offset="1" stop-color="#0000c3"/></linearGradient>
<linearGradient id="g58" gradientUnits="userSpaceOnUse" x1="99" x2="494" y1="0" y2="0"><stop offset="0" stop-color="#00008f"/><stop offset="0.2582" stop-color="#000090"/><stop offset="0.2937" stop-color="#0000a1"/><stop offset="0.5165" stop-color="#0000e1"/><stop offset="0.5392" stop-color="#0000ed"/><stop offset="0.6608" stop-color="#0000f6"/><stop offset="0.881" stop-color="#0000f5"/><stop offset="0.9089" stop-color="#0000ec"/><stop offset="0.9848" stop-color="#0000c2"/><stop offset="1" stop-color="#0000be"/></linearGradient>
<linearGradient id="g59" gradientUnits="userSpaceOnUse" x1="99" x2="494" y1="0" y2="0"><stop offset="0" stop-color="#00008f"/><stop offset="0.2658" stop-color="#000090"/><stop offset="0.2987" stop-color="#0000a0"/><stop offset="0.5165" stop-color="#0000de"/><stop offset="0.5392" stop-color="#0000ea"/><stop offset="0.6608" stop-color="#0000f3"/><stop offset="0.8759" stop-color="#0000f1"/><stop offset="0.9089" stop-color="#0000e6"/><stop offset="0.9848" stop-color="#0000bd"/><stop offset="1" stop-color="#0000ba"/></linearGradient>
<linearGradient id="g60" gradientUnits="userSpaceOnUse" x1="99" x2="494" y1="0" y2="0"><stop offset="0" stop-color="#00008f"/><stop offset="0.2734" stop-color="#000090"/><stop offset="0.3038" stop-color="#00009e"/><stop offset="0.3646" stop-color="#0000ac"/><stop offset="0.4203" stop-color="#0000c1"/><stop offset="0.5165" stop-color="#0000db"/><stop offset="0.5392" stop-color="#0000e7"/><stop offset="0.6608" stop-color="#0000f0"/><stop offset="0.8684" stop-color="#0000ef"/><stop offset="0.9013" stop-color="#0000e4"/><stop offset="0.9797" stop-color="#00b"/><stop offset="1" stop-color="#0000b7"/></linearGradient>
<linearGradient id="g61" gradientUnits="userSpaceOnUse" x1="99" x2="494" y1="0" y2="0"><stop offset="0" stop-color="#00008f"/><stop offset="0.2785" stop-color="#000090"/><stop offset="0.3114" stop-color="#00009e"/><stop offset="0.3646" stop-color="#0000a9"/><stop offset="0.4456" stop-color="#0000c6"/><stop offset="0.5165" stop-color="#0000d9"/><stop offset="0.5392" stop-color="#0000e4"/><stop offset="0.6608" stop-color="#0000ed"/><stop offset="0.8633" stop-color="#0000ec"/><stop offset="0.8962" stop-color="#0000e1"/><stop offset="0.9722" stop-color="#00b"/><stop offset="1" stop-color="#0000b4"/></linearGradient>
<linearGradient id="g62" gradientUnits="userSpaceOnUse" x1="99" x2="494" y1="0" y2="0"><stop offset="0" stop-color="#00008f"/><stop offset="0.2861" stop-color="#000090"/><stop offset="0.3165" stop-color="#00009c"/><stop offset="0.3646" stop-color="#0000a6"/><stop offset="0.4481" stop-color="#0000c4"/><stop offset="0.5165" stop-color="#0000d6"/><stop offset="0.5392" stop-color="#0000e2"/><stop offset="0.6608" stop-color="#0000eb"/><stop offset="0.8582" stop-color="#0000e9"/><stop offset="0.8911" stop-color="#0000de"/><stop offset="0.9671" stop-color="#0000b9"/><stop offset="1" stop-color="#0000b1"/></linearGradient>
<linearGradient id="g63" gradientUnits="userSpaceOnUse" x1="99" x2="494" y1="0" y2="0"><stop offset="0" stop-color="#00008f"/><stop offset="0.2911" stop-color="#000090"/><stop offset="0.5165" stop-color="#0000d4"/><stop offset="0.5392" stop-color="#0000df"/><stop offset="0.6608" stop-color="#0000e8"/><stop offset="0.8506" stop-color="#0000e6"/><stop offset="0.8835" stop-color="#0000dc"/><stop offset="0.962" stop-color="#0000b7"/><stop offset="1" stop-color="#0000b0"/></linearGradient>
<linearGradient id="g64" gradientUnits="userSpaceOnUse" x1="99" x2="494" y1="0" y2="0"><stop offset="0" stop-color="#00008f"/><stop offset="0.2987" stop-color="#000090"/><stop offset="0.5165" stop-color="#0000d2"/><stop offset="0.5392" stop-color="#00d"/><stop offset="0.6608" stop-color="#0000e6"/><stop offset="0.8456" stop-color="#0000e4"/><stop offset="0.8785" stop-color="#0000d9"/><stop offset="0.957" stop-color="#0000b5"/><stop offset="1" stop-color="#0000ae"/></linearGradient>
<linearGradient id="g65" gradientUnits="userSpaceOnUse" x1="99" x2="494" y1="0" y2="0"><stop offset="0" stop-color="#00008f"/><stop offset="0.3063" stop-color="#000090"/><stop offset="0.3848" stop-color="#0000a5"/><stop offset="0.5392" stop-color="#0000da"/><stop offset="0.6608" stop-color="#0000e3"/><stop offset="0.838" stop-color="#0000e1"/><stop offset="0.8709" stop-color="#0000d8"/><stop offset="0.9544" stop-color="#0000b3"/><stop offset="1" stop-color="#0000ad"/></linearGradient>
<linearGradient id="g66" gradientUnits="userSpaceOnUse" x1="99" x2="494" y1="0" y2="0"><stop offset="0" stop-color="#00008f"/><stop offset="0.3114" stop-color="#000090"/><stop offset="0.3949" stop-color="#0000a6"/><stop offset="0.5392" stop-color="#0000d8"/><stop offset="0.6608" stop-color="#0000e1"/><stop offset="0.8329" stop-color="#0000df"/><stop offset="0.8658" stop-color="#0000d5"/><stop offset="0.9494" stop-color="#0000b1"/><stop offset="1" stop-color="#0000ac"/></linearGradient>
<linearGradient id="g67" gradientUnits="userSpaceOnUse" x1="99" x2="494" y1="0" y2="0"><stop offset="0" stop-color="#00008f"/><stop offset="0.319" stop-color="#000090"/><stop offset="0.4051" stop-color="#0000a7"/><stop offset="0.5392" stop-color="#0000d6"/><stop offset="0.6608" stop-color="#0000de"/><stop offset="0.8253" stop-color="#00d"/><stop offset="0.8582" stop-color="#0000d4"/><stop offset="0.9443" stop-color="#0000b0"/><stop offset="1" stop-color="#0000ac"/></linearGradient>
<linearGradient id="g68" gradientUnits="userSpaceOnUse" x1="99" x2="494" y1="0" y2="0"><stop offset="0" stop-color="#00008f"/><stop offset="0.3241" stop-color="#000090"/><stop offset="0.4177" stop-color="#0000a9"/><stop offset="0.5392" stop-color="#0000d4"/><stop offset="0.6608" stop-color="#0000dc"/><stop offset="0.8203" stop-color="#0000da"/><stop offset="0.8506" stop-color="#0000d2"/><stop offset="0.9392" stop-color="#0000af"/><stop offset="1" stop-color="#0000ab"/></linearGradient>
<linearGradient id="g69" gradientUnits="userSpaceOnUse" x1="99" x2="494" y1="0" y2="0"><stop offset="0" stop-color="#00008f"/><stop offset="0.3316" stop-color="#000090"/><stop offset="0.4329" stop-color="#0000ab"/><stop offset="0.5392" stop-color="#0000d2"/><stop offset="0.6608" stop-color="#0000da"/><stop offset="0.8127" stop-color="#0000d9"/><stop offset="0.8456" stop-color="#0000d0"/><stop offset="0.9342" stop-color="#0000ae"/><stop offset="1" stop-color="#00a"/></linearGradient>
<linearGradient id="g70" gradientUnits="userSpaceOnUse" x1="99" x2="494" y1="0" y2="0"><stop offset="0" stop-color="#00008f"/><stop offset="0.3392" stop-color="#000090"/><stop offset="0.4329" stop-color="#0000a9"/><stop offset="0.5392" stop-color="#0000d0"/><stop offset="0.6608" stop-color="#0000d8"/><stop offset="0.8051" stop-color="#0000d7"/><stop offset="0.838" stop-color="#0000cf"/><stop offset="0.9291" stop-color="#0000ac"/><stop offset="1" stop-color="#0000a9"/></linearGradient>
<linearGradient id="g71" gradientUnits="userSpaceOnUse" x1="99" x2="494" y1="0" y2="0"><stop offset="0" stop-color="#00008f"/><stop offset="0.3443" stop-color="#000090"/><stop offset="0.4329" stop-color="#0000a6"/><stop offset="0.5392" stop-color="#0000ce"/><stop offset="0.6608" stop-color="#0000d6"/><stop offset="0.8" stop-color="#0000d5"/><stop offset="0.9241" stop-color="#0000ab"/><stop offset="1" stop-color="#0000a9"/></linearGradient>
<linearGradient id="g72" gradientUnits="userSpaceOnUse" x1="99" x2="494" y1="0" y2="0"><stop offset="0" stop-color="#00008f"/><stop offset="0.3519" stop-color="#000090"/><stop offset="0.4329" stop-color="#0000a4"/><stop offset="0.5392" stop-color="#00c"/><stop offset="0.6608" stop-color="#0000d4"/><stop offset="0.7924" stop-color="#0000d3"/><stop offset="0.919" stop-color="#00a"/><stop offset="1" stop-color="#0000a8"/></linearGradient>
<linearGradient id="g73" gradientUnits="userSpaceOnUse" x1="99" x2="494" y1="0" y2="0"><stop offset="0" stop-color="#00008f"/><stop offset="0.357" stop-color="#000090"/><stop offset="0.4354" stop-color="#0000a3"/><stop offset="0.5392" stop-color="#0000cb"/><stop offset="0.6608" stop-color="#0000d3"/><stop offset="0.7873" stop-color="#0000d1"/><stop offset="0.9139" stop-color="#0000a9"/><stop offset="1" stop-color="#0000a7"/></linearGradient>
<linearGradient id="g74" gradientUnits="userSpaceOnUse" x1="99" x2="494" y1="0" y2="0"><stop offset="0" stop-color="#00008f"/><stop offset="0.3646" stop-color="#000090"/><stop offset="0.4456" stop-color="#0000a5"/><stop offset="0.5392" stop-color="#0000c9"/><stop offset="0.6608" stop-color="#0000d1"/><stop offset="0.7797" stop-color="#0000d0"/><stop offset="0.9089" stop-color="#0000a8"/><stop offset="1" stop-color="#0000a7"/></linearGradient>
<linearGradient id="g75" gradientUnits="userSpaceOnUse" x1="99" x2="494" y1="0" y2="0"><stop offset="0" stop-color="#00008f"/><stop offset="0.3696" stop-color="#000090"/><stop offset="0.4532" stop-color="#0000a5"/><stop offset="0.5392" stop-color="#0000c7"/><stop offset="0.6608" stop-color="#0000cf"/><stop offset="0.7747" stop-color="#0000ce"/><stop offset="0.9013" stop-color="#0000a8"/><stop offset="1" stop-color="#0000a6"/></linearGradient>
<linearGradient id="g76" gradientUnits="userSpaceOnUse" x1="99" x2="494" y1="0" y2="0"><stop offset="0" stop-color="#00008f"/><stop offset="0.3772" stop-color="#000090"/><stop offset="0.4633" stop-color="#0000a6"/><stop offset="0.5392" stop-color="#0000c6"/><stop offset="0.6608" stop-color="#0000cd"/><stop offset="0.7671" stop-color="#00c"/><stop offset="0.8962" stop-color="#0000a7"/><stop offset="1" stop-color="#0000a6"/></linearGradient>
<linearGradient id="g77" gradientUnits="userSpaceOnUse" x1="99" x2="494" y1="0" y2="0"><stop offset="0" stop-color="#00008f"/><stop offset="0.3823" stop-color="#000090"/><stop offset="0.4684" stop-color="#0000a6"/><stop offset="0.5392" stop-color="#0000c4"/><stop offset="0.6608" stop-color="#00c"/><stop offset="0.7696" stop-color="#0000ca"/><stop offset="0.8962" stop-color="#0000a6"/><stop offset="1" stop-color="#0000a5"/></linearGradient>
<linearGradient id="g78" gradientUnits="userSpaceOnUse" x1="99" x2="494" y1="0" y2="0"><stop offset="0" stop-color="#00008f"/><stop offset="0.3899" stop-color="#000090"/><stop offset="0.4785" stop-color="#0000a7"/><stop offset="0.5392" stop-color="#0000c1"/><stop offset="0.6608" stop-color="#0000ca"/><stop offset="0.762" stop-color="#0000c8"/><stop offset="0.8911" stop-color="#0000a5"/><stop offset="1" stop-color="#0000a4"/></linearGradient>
<linearGradient id="g79" gradientUnits="userSpaceOnUse" x1="99" x2="494" y1="0" y2="0"><stop offset="0" stop-color="#00008f"/><stop offset="0.3949" stop-color="#000090"/><stop offset="0.4835" stop-color="#0000a7"/><stop offset="0.5392" stop-color="#0000bf"/><stop offset="0.6608" stop-color="#0000c9"/><stop offset="0.757" stop-color="#0000c7"/><stop offset="0.8835" stop-color="#0000a4"/><stop offset="1" stop-color="#0000a4"/></linearGradient>
<linearGradient id="g80" gradientUnits="userSpaceOnUse" x1="99" x2="494" y1="0" y2="0"><stop offset="0" stop-color="#00008f"/><stop offset="0.4025" stop-color="#000090"/><stop offset="0.4835" stop-color="#0000a5"/><stop offset="0.5443" stop-color="#0000be"/><stop offset="0.6608" stop-color="#0000c7"/><stop offset="0.7519" stop-color="#0000c5"/><stop offset="0.8785" stop-color="#0000a4"/><stop offset="1" stop-color="#0000a3"/></linearGradient>
<linearGradient id="g81" gradientUnits="userSpaceOnUse" x1="99" x2="494" y1="0" y2="0"><stop offset="0" stop-color="#00008f"/><stop offset="0.4076" stop-color="#00008f"/><stop offset="0.4861" stop-color="#0000a4"/><stop offset="0.5494" stop-color="#0000bd"/><stop offset="0.6608" stop-color="#0000c6"/><stop offset="0.7468" stop-color="#0000c4"/><stop offset="0.8709" stop-color="#0000a3"/><stop offset="1" stop-color="#0000a3"/></linearGradient>
<linearGradient id="g82" gradientUnits="userSpaceOnUse" x1="99" x2="494" y1="0" y2="0"><stop offset="0" stop-color="#00008f"/><stop offset="0.4152" stop-color="#000090"/><stop offset="0.4911" stop-color="#0000a4"/><stop offset="0.5544" stop-color="#0000bc"/><stop offset="0.6608" stop-color="#0000c5"/><stop offset="0.7418" stop-color="#0000c2"/><stop offset="0.8658" stop-color="#0000a3"/><stop offset="1" stop-color="#0000a2"/></linearGradient>
<linearGradient id="g83" gradientUnits="userSpaceOnUse" x1="99" x2="494" y1="0" y2="0"><stop offset="0" stop-color="#00008f"/><stop offset="0.4228" stop-color="#000090"/><stop offset="0.4987" stop-color="#0000a4"/><stop offset="0.5595" stop-color="#0000ba"/><stop offset="0.6608" stop-color="#0000c3"/><stop offset="0.7367" stop-color="#0000c1"/><stop offset="0.8582" stop-color="#0000a2"/><stop offset="1" stop-color="#0000a2"/></linearGradient>
<linearGradient id="g84" gradientUnits="userSpaceOnUse" x1="99" x2="494" y1="0" y2="0"><stop offset="0" stop-color="#00008f"/><stop offset="0.4278" stop-color="#000090"/><stop offset="0.5646" stop-color="#0000b9"/><stop offset="0.6608" stop-color="#0000c2"/><stop offset="0.7316" stop-color="#0000bf"/><stop offset="0.8532" stop-color="#0000a2"/><stop offset="1" stop-color="#0000a2"/></linearGradient>
<linearGradient id="g85" gradientUnits="userSpaceOnUse" x1="99" x2="494" y1="0" y2="0"><stop offset="0" stop-color="#00008f"/><stop offset="0.4354" stop-color="#000090"/><stop offset="0.5696" stop-color="#0000b8"/><stop offset="0.6608" stop-color="#0000c1"/><stop offset="0.7266" stop-color="#0000be"/><stop offset="0.8456" stop-color="#0000a2"/><stop offset="1" stop-color="#0000a1"/></linearGradient>
<linearGradient id="g86" gradientUnits="userSpaceOnUse" x1="99" x2="494" y1="0" y2="0"><stop offset="0" stop-color="#00008f"/><stop offset="0.4405" stop-color="#000090"/><stop offset="0.5747" stop-color="#0000b7"/><stop offset="0.6608" stop-color="#0000c0"/><stop offset="0.7215" stop-color="#0000bd"/><stop offset="0.8405" stop-color="#0000a1"/><stop offset="1" stop-color="#0000a1"/></linearGradient>
<linearGradient id="g87" gradientUnits="userSpaceOnUse" x1="99" x2="494" y1="0" y2="0"><stop offset="0" stop-color="#00008f"/><stop offset="0.4481" stop-color="#000090"/><stop offset="0.5797" stop-color="#0000b6"/><stop offset="0.6608" stop-color="#0000bf"/><stop offset="0.7165" stop-color="#0000bc"/><stop offset="0.8329" stop-color="#0000a1"/><stop offset="1" stop-color="#0000a0"/></linearGradient>
<linearGradient id="g88" gradientUnits="userSpaceOnUse" x1="99" x2="494" y1="0" y2="0"><stop offset="0" stop-color="#00008f"/><stop offset="0.4532" stop-color="#000090"/><stop offset="0.5873" stop-color="#0000b6"/><stop offset="0.6608" stop-color="#0000be"/><stop offset="0.7114" stop-color="#0000ba"/><stop offset="0.8278" stop-color="#0000a0"/><stop offset="1" stop-color="#0000a0"/></linearGradient>
<linearGradient id="g89" gradientUnits="userSpaceOnUse" x1="99" x2="494" y1="0" y2="0"><stop offset="0" stop-color="#00008f"/><stop offset="0.4608" stop-color="#000090"/><stop offset="0.5924" stop-color="#0000b5"/><stop offset="0.6608" stop-color="#0000bd"/><stop offset="0.7063" stop-color="#0000b9"/><stop offset="0.8203" stop-color="#0000a0"/><stop offset="1" stop-color="#00009f"/></linearGradient>
<linearGradient id="g90" gradientUnits="userSpaceOnUse" x1="99" x2="494" y1="0" y2="0"><stop offset="0" stop-color="#00008f"/><stop offset="0.4658" stop-color="#00008f"/><stop offset="0.5975" stop-color="#0000b4"/><stop offset="0.6608" stop-color="#00b"/><stop offset="0.7013" stop-color="#0000b8"/><stop offset="0.8152" stop-color="#00009f"/><stop offset="1" stop-color="#00009f"/></linearGradient>
<linearGradient id="g91" gradientUnits="userSpaceOnUse" x1="99" x2="494" y1="0" y2="0"><stop offset="0" stop-color="#00008f"/><stop offset="0.4734" stop-color="#000090"/><stop offset="0.6" stop-color="#0000b3"/><stop offset="0.6608" stop-color="#0000ba"/><stop offset="0.8101" stop-color="#00009f"/><stop offset="1" stop-color="#00009f"/></linearGradient>
<linearGradient id="g92" gradientUnits="userSpaceOnUse" x1="99" x2="494" y1="0" y2="0"><stop offset="0" stop-color="#00008f"/><stop offset="0.4785" stop-color="#00008f"/><stop offset="0.6025" stop-color="#0000b1"/><stop offset="0.6582" stop-color="#0000b9"/><stop offset="0.8025" stop-color="#00009f"/><stop offset="1" stop-color="#00009e"/></linearGradient>
<linearGradient id="g93" gradientUnits="userSpaceOnUse" x1="99" x2="494" y1="0" y2="0"><stop offset="0" stop-color="#00008f"/><stop offset="0.4861" stop-color="#000090"/><stop offset="0.5392" stop-color="#0000a0"/><stop offset="0.6532" stop-color="#0000b8"/><stop offset="0.7975" stop-color="#00009e"/><stop offset="1" stop-color="#00009e"/></linearGradient>
<linearGradient id="g94" gradientUnits="userSpaceOnUse" x1="99" x2="494" y1="0" y2="0"><stop offset="0" stop-color="#00008f"/><stop offset="0.4911" stop-color="#00008f"/><stop offset="0.5392" stop-color="#00009f"/><stop offset="0.6532" stop-color="#0000b7"/><stop offset="0.7899" stop-color="#00009e"/><stop offset="1" stop-color="#00009e"/></linearGradient>
<linearGradient id="g95" gradientUnits="userSpaceOnUse" x1="99" x2="494" y1="0" y2="0"><stop offset="0" stop-color="#00008f"/><stop offset="0.4987" stop-color="#000090"/><stop offset="0.5367" stop-color="#00009d"/><stop offset="0.6532" stop-color="#0000b5"/><stop offset="0.7848" stop-color="#00009e"/><stop offset="1" stop-color="#00009d"/></linearGradient>
<linearGradient id="g96" gradientUnits="userSpaceOnUse" x1="99" x2="494" y1="0" y2="0"><stop offset="0" stop-color="#00008f"/><stop offset="0.5038" stop-color="#00008f"/><stop offset="0.5392" stop-color="#00009d"/><stop offset="0.6532" stop-color="#0000b4"/><stop offset="0.7797" stop-color="#00009d"/><stop offset="1" stop-color="#00009d"/></linearGradient>
<linearGradient id="g97" gradientUnits="userSpaceOnUse" x1="99" x2="494" y1="0" y2="0"><stop offset="0" stop-color="#00008f"/><stop offset="0.5114" stop-color="#000090"/><stop offset="0.5468" stop-color="#00009d"/><stop offset="0.6532" stop-color="#0000b2"/><stop offset="0.7722" stop-color="#00009d"/><stop offset="1" stop-color="#00009d"/></linearGradient>
<linearGradient id="g98" gradientUnits="userSpaceOnUse" x1="99" x2="494" y1="0" y2="0"><stop offset="0" stop-color="#00008f"/><stop offset="0.5165" stop-color="#00008f"/><stop offset="0.5519" stop-color="#00009c"/><stop offset="0.6532" stop-color="#0000b1"/><stop offset="0.7671" stop-color="#00009d"/><stop offset="1" stop-color="#00009d"/></linearGradient>
<linearGradient id="g99" gradientUnits="userSpaceOnUse" x1="99" x2="494" y1="0" y2="0"><stop offset="0" stop-color="#00008f"/><stop offset="0.5241" stop-color="#00008f"/><stop offset="0.5595" stop-color="#00009c"/><stop offset="0.6532" stop-color="#0000af"/><stop offset="0.762" stop-color="#00009c"/><stop offset="1" stop-color="#00009c"/></linearGradient>
<linearGradient id="g100" gradientUnits="userSpaceOnUse" x1="99" x2="494" y1="0" y2="0"><stop offset="0" stop-color="#00008f"/><stop offset="0.5291" stop-color="#00008f"/><stop offset="0.5646" stop-color="#00009c"/><stop offset="0.6532" stop-color="#0000ad"/><stop offset="0.757" stop-color="#00009c"/><stop offset="1" stop-color="#00009c"/></linearGradient>
<linearGradient id="g101" gradientUnits="userSpaceOnUse" x1="99" x2="494" y1="0" y2="0"><stop offset="0" stop-color="#00008f"/><stop offset="0.5367" stop-color="#00008f"/><stop offset="0.5722" stop-color="#00009c"/><stop offset="0.6532" stop-color="#0000ab"/><stop offset="0.7494" stop-color="#00009c"/><stop offset="1" stop-color="#00009c"/></linearGradient>
<linearGradient id="g102" gradientUnits="userSpaceOnUse" x1="99" x2="494" y1="0" y2="0"><stop offset="0" stop-color="#00008f"/><stop offset="0.5418" stop-color="#00008f"/><stop offset="0.5772" stop-color="#00009b"/><stop offset="0.6532" stop-color="#00a"/><stop offset="0.7443" stop-color="#00009b"/><stop offset="1" stop-color="#00009b"/></linearGradient>
<linearGradient id="g103" gradientUnits="userSpaceOnUse" x1="99" x2="494" y1="0" y2="0"><stop offset="0" stop-color="#00008f"/><stop offset="0.5494" stop-color="#00008f"/><stop offset="0.5848" stop-color="#00009b"/><stop offset="0.6532" stop-color="#0000a8"/><stop offset="0.7392" stop-color="#00009b"/><stop offset="1" stop-color="#00009b"/></linearGradient>
<linearGradient id="g104" gradientUnits="userSpaceOnUse" x1="99" x2="494" y1="0" y2="0"><stop offset="0" stop-color="#00008f"/><stop offset="0.557" stop-color="#000090"/><stop offset="0.5899" stop-color="#00009b"/><stop offset="0.6532" stop-color="#0000a6"/><stop offset="0.7342" stop-color="#00009b"/><stop offset="1" stop-color="#00009b"/></linearGradient>
<linearGradient id="g105" gradientUnits="userSpaceOnUse" x1="99" x2="494" y1="0" y2="0"><stop offset="0" stop-color="#00008f"/><stop offset="0.562" stop-color="#00008f"/><stop offset="0.5975" stop-color="#00009b"/><stop offset="0.6532" stop-color="#0000a5"/><stop offset="0.7291" stop-color="#00009b"/><stop offset="1" stop-color="#00009b"/></linearGradient>
<linearGradient id="g106" gradientUnits="userSpaceOnUse" x1="99" x2="494" y1="0" y2="0"><stop offset="0" stop-color="#00008f"/><stop offset="0.5696" stop-color="#00008f"/><stop offset="0.6051" stop-color="#00009b"/><stop offset="0.6532" stop-color="#0000a3"/><stop offset="0.7241" stop-color="#00009a"/><stop offset="1" stop-color="#00009a"/></linearGradient>
<linearGradient id="g107" gradientUnits="userSpaceOnUse" x1="99" x2="494" y1="0" y2="0"><stop offset="0" stop-color="#00008f"/><stop offset="0.5747" stop-color="#00008f"/><stop offset="0.6101" stop-color="#00009b"/><stop offset="0.6532" stop-color="#0000a1"/><stop offset="0.7165" stop-color="#00009a"/><stop offset="1" stop-color="#00009a"/></linearGradient>
<linearGradient id="g108" gradientUnits="userSpaceOnUse" x1="99" x2="494" y1="0" y2="0"><stop offset="0" stop-color="#00008f"/><stop offset="0.5823" stop-color="#00008f"/><stop offset="0.6532" stop-color="#0000a0"/><stop offset="0.7114" stop-color="#00009a"/><stop offset="1" stop-color="#00009a"/></linearGradient>
<linearGradient id="g109" gradientUnits="userSpaceOnUse" x1="99" x2="494" y1="0" y2="0"><stop offset="0" stop-color="#00008f"/><stop offset="0.5873" stop-color="#00008f"/><stop offset="0.6532" stop-color="#00009f"/><stop offset="0.7063" stop-color="#00009a"/><stop offset="1" stop-color="#00009a"/></linearGradient>
<linearGradient id="g110" gradientUnits="userSpaceOnUse" x1="99" x2="494" y1="0" y2="0"><stop offset="0" stop-color="#00008f"/><stop offset="0.5949" stop-color="#00008f"/><stop offset="0.6532" stop-color="#00009d"/><stop offset="0.7013" stop-color="#009"/><stop offset="1" stop-color="#00009a"/></linearGradient>
<linearGradient id="g111" gradientUnits="userSpaceOnUse" x1="99" x2="494" y1="0" y2="0"><stop offset="0" stop-color="#00008f"/><stop offset="0.6" stop-color="#00008f"/><stop offset="0.6532" stop-color="#00009c"/><stop offset="1" stop-color="#009"/></linearGradient>
<linearGradient id="g112" gradientUnits="userSpaceOnUse" x1="99" x2="494" y1="0" y2="0"><stop offset="0" stop-color="#00008f"/><stop offset="0.6076" stop-color="#00008f"/><stop offset="0.6532" stop-color="#00009b"/><stop offset="1" stop-color="#009"/></linearGradient>
<linearGradient id="g113" gradientUnits="userSpaceOnUse" x1="99" x2="494" y1="0" y2="0"><stop offset="0" stop-color="#00008f"/><stop offset="0.6127" stop-color="#00008f"/><stop offset="0.6532" stop-color="#00009a"/><stop offset="1" stop-color="#009"/></linearGradient>
<linearGradient id="g114" gradientUnits="userSpaceOnUse" x1="99" x2="494" y1="0" y2="0"><stop offset="0" stop-color="#00008f"/><stop offset="0.6203" stop-color="#00008f"/><stop offset="0.6557" stop-color="#009"/><stop offset="1" stop-color="#009"/></linearGradient>
<linearGradient id="g115" gradientUnits="userSpaceOnUse" x1="99" x2="494" y1="0" y2="0"><stop offset="0" stop-color="#00008f"/><stop offset="0.6253" stop-color="#00008f"/><stop offset="0.6633" stop-color="#000098"/><stop offset="1" stop-color="#000098"/></linearGradient>
<linearGradient id="g116" gradientUnits="userSpaceOnUse" x1="99" x2="494" y1="0" y2="0"><stop offset="0" stop-color="#00008f"/><stop offset="0.6354" stop-color="#00008f"/><stop offset="0.6633" stop-color="#000096"/><stop offset="1" stop-color="#000096"/></linearGradient>
<linearGradient id="g117" gradientUnits="userSpaceOnUse" x1="99" x2="494" y1="0" y2="0"><stop offset="0" stop-color="#00008f"/><stop offset="1" stop-color="#000092"/></linearGradient>
</defs>
<rect width="600" height="582" fill="#fff"/>
<g clip-path="url(#cp)"><g filter="url(#bl)" shape-rendering="crispEdges">
<rect x="99" y="265" width="395" height="1" fill="url(#g0)"/>
<rect x="99" y="266" width="395" height="1" fill="url(#g0)"/>
<rect x="99" y="264" width="395" height="1" fill="url(#g1)"/>
<rect x="99" y="267" width="395" height="1" fill="url(#g1)"/>
<rect x="99" y="263" width="395" height="1" fill="url(#g2)"/>
<rect x="99" y="268" width="395" height="1" fill="url(#g2)"/>
<rect x="99" y="262" width="395" height="1" fill="url(#g3)"/>
<rect x="99" y="269" width="395" height="1" fill="url(#g3)"/>
<rect x="99" y="261" width="395" height="1" fill="url(#g4)"/>
<rect x="99" y="270" width="395" height="1" fill="url(#g4)"/>
<rect x="99" y="260" width="395" height="1" fill="url(#g5)"/>
<rect x="99" y="271" width="395" height="1" fill="url(#g5)"/>
<rect x="99" y="259" width="395" height="1" fill="url(#g6)"/>
<rect x="99" y="272" width="395" height="1" fill="url(#g6)"/>
<rect x="99" y="258" width="395" height="1" fill="url(#g7)"/>
<rect x="99" y="273" width="395" height="1" fill="url(#g7)"/>
<rect x="99" y="257" width="395" height="1" fill="url(#g8)"/>
<rect x="99" y="274" width="395" height="1" fill="url(#g8)"/>
<rect x="99" y="256" width="395" height="1" fill="url(#g9)"/>
<rect x="99" y="275" width="395" height="1" fill="url(#g9)"/>
<rect x="99" y="255" width="395" height="1" fill="url(#g10)"/>
<rect x="99" y="276" width="395" height="1" fill="url(#g10)"/>
<rect x="99" y="254" width="395" height="1" fill="url(#g11)"/>
<rect x="99" y="277" width="395" height="1" fill="url(#g11)"/>
<rect x="99" y="253" width="395" height="1" fill="url(#g12)"/>
<rect x="99" y="278" width="395" height="1" fill="url(#g12)"/>
<rect x="99" y="252" width="395" height="1" fill="url(#g13)"/>
<rect x="99" y="279" width="395" height="1" fill="url(#g13)"/>
<rect x="99" y="251" width="395" height="1" fill="url(#g14)"/>
<rect x="99" y="280" width="395" height="1" fill="url(#g14)"/>
<rect x="99" y="250" width="395" height="1" fill="url(#g15)"/>
<rect x="99" y="281" width="395" height="1" fill="url(#g15)"/>
<rect x="99" y="249" width="395" height="1" fill="url(#g16)"/>
<rect x="99" y="282" width="395" height="1" fill="url(#g16)"/>
<rect x="99" y="248" width="395" height="1" fill="url(#g17)"/>
<rect x="99" y="283" width="395" height="1" fill="url(#g17)"/>
<rect x="99" y="247" width="395" height="1" fill="url(#g18)"/>
<rect x="99" y="284" width="395" height="1" fill="url(#g18)"/>
<rect x="99" y="246" width="395" height="1" fill="url(#g19)"/>
<rect x="99" y="285" width="395" height="1" fill="url(#g19)"/>
<rect x="99" y="245" width="395" height="1" fill="url(#g20)"/>
<rect x="99" y="286" width="395" height="1" fill="url(#g20)"/>
<rect x="99" y="244" width="395" height="1" fill="url(#g21)"/>
<rect x="99" y="287" width="395" height="1" fill="url(#g21)"/>
<rect x="99" y="243" width="395" height="1" fill="url(#g22)"/>
<rect x="99" y="288" width="395" height="1" fill="url(#g22)"/>
<rect x="99" y="242" width="395" height="1" fill="url(#g23)"/>
<rect x="99" y="289" width="395" height="1" fill="url(#g23)"/>
<rect x="99" y="241" width="395" height="1" fill="url(#g24)"/>
<rect x="99" y="290" width="395" height="1" fill="url(#g24)"/>
<rect x="99" y="240" width="395" height="1" fill="url(#g25)"/>
<rect x="99" y="291" width="395" height="1" fill="url(#g25)"/>
<rect x="99" y="239" width="395" height="1" fill="url(#g26)"/>
<rect x="99" y="292" width="395" height="1" fill="url(#g26)"/>
<rect x="99" y="238" width="395" height="1" fill="url(#g27)"/>
<rect x="99" y="293" width="395" height="1" fill="url(#g27)"/>
<rect x="99" y="237" width="395" height="1" fill="url(#g28)"/>
<rect x="99" y="294" width="395" height="1" fill="url(#g28)"/>
<rect x="99" y="236" width="395" height="1" fill="url(#g29)"/>
<rect x="99" y="295" width="395" height="1" fill="url(#g29)"/>
<rect x="99" y="235" width="395" height="1" fill="url(#g30)"/>
<rect x="99" y="296" width="395" height="1" fill="url(#g30)"/>
<rect x="99" y="234" width="395" height="1" fill="url(#g31)"/>
<rect x="99" y="297" width="395" height="1" fill="url(#g31)"/>
<rect x="99" y="233" width="395" height="1" fill="url(#g32)"/>
<rect x="99" y="298" width="395" height="1" fill="url(#g32)"/>
<rect x="99" y="232" width="395" height="1" fill="url(#g33)"/>
<rect x="99" y="299" width="395" height="1" fill="url(#g33)"/>
<rect x="99" y="231" width="395" height="1" fill="url(#g34)"/>
<rect x="99" y="300" width="395" height="1" fill="url(#g34)"/>
<rect x="99" y="230" width="395" height="1" fill="url(#g35)"/>
<rect x="99" y="301" width="395" height="1" fill="url(#g35)"/>
<rect x="99" y="229" width="395" height="1" fill="url(#g36)"/>
<rect x="99" y="302" width="395" height="1" fill="url(#g36)"/>
<rect x="99" y="228" width="395" height="1" fill="url(#g37)"/>
<rect x="99" y="303" width="395" height="1" fill="url(#g37)"/>
<rect x="99" y="227" width="395" height="1" fill="url(#g38)"/>
<rect x="99" y="304" width="395" height="1" fill="url(#g38)"/>
<rect x="99" y="226" width="395" height="1" fill="url(#g39)"/>
<rect x="99" y="305" width="395" height="1" fill="url(#g39)"/>
<rect x="99" y="225" width="395" height="1" fill="url(#g40)"/>
<rect x="99" y="306" width="395" height="1" fill="url(#g40)"/>
<rect x="99" y="224" width="395" height="1" fill="url(#g41)"/>
<rect x="99" y="307" width="395" height="1" fill="url(#g41)"/>
<rect x="99" y="223" width="395" height="1" fill="url(#g42)"/>
<rect x="99" y="308" width="395" height="1" fill="url(#g42)"/>
<rect x="99" y="222" width="395" height="1" fill="url(#g43)"/>
<rect x="99" y="309" width="395" height="1" fill="url(#g43)"/>
<rect x="99" y="221" width="395" height="1" fill="url(#g44)"/>
<rect x="99" y="310" width="395" height="1" fill="url(#g44)"/>
<rect x="99" y="220" width="395" height="1" fill="url(#g45)"/>
<rect x="99" y="311" width="395" height="1" fill="url(#g45)"/>
<rect x="99" y="219" width="395" height="1" fill="url(#g46)"/>
<rect x="99" y="312" width="395" height="1" fill="url(#g46)"/>
<rect x="99" y="218" width="395" height="1" fill="url(#g47)"/>
<rect x="99" y="313" width="395" height="1" fill="url(#g47)"/>
<rect x="99" y="217" width="395" height="1" fill="url(#g48)"/>
<rect x="99" y="314" width="395" height="1" fill="url(#g48)"/>
<rect x="99" y="216" width="395" height="1" fill="url(#g49)"/>
<rect x="99" y="315" width="395" height="1" fill="url(#g49)"/>
<rect x="99" y="215" width="395" height="1" fill="url(#g50)"/>
<rect x="99" y="316" width="395" height="1" fill="url(#g50)"/>
<rect x="99" y="214" width="395" height="1" fill="url(#g51)"/>
<rect x="99" y="317" width="395" height="1" fill="url(#g51)"/>
<rect x="99" y="213" width="395" height="1" fill="url(#g52)"/>
<rect x="99" y="318" width="395" height="1" fill="url(#g52)"/>
<rect x="99" y="212" width="395" height="1" fill="url(#g53)"/>
<rect x="99" y="319" width="395" height="1" fill="url(#g53)"/>
<rect x="99" y="211" width="395" height="1" fill="url(#g54)"/>
<rect x="99" y="320" width="395" height="1" fill="url(#g54)"/>
<rect x="99" y="210" width="395" height="1" fill="url(#g55)"/>
<rect x="99" y="321" width="395" height="1" fill="url(#g55)"/>
<rect x="99" y="209" width="395" height="1" fill="url(#g56)"/>
<rect x="99" y="322" width="395" height="1" fill="url(#g56)"/>
<rect x="99" y="208" width="395" height="1" fill="url(#g57)"/>
<rect x="99" y="323" width="395" height="1" fill="url(#g57)"/>
<rect x="99" y="207" width="395" height="1" fill="url(#g58)"/>
<rect x="99" y="324" width="395" height="1" fill="url(#g58)"/>
<rect x="99" y="206" width="395" height="1" fill="url(#g59)"/>
<rect x="99" y="325" width="395" height="1" fill="url(#g59)"/>
<rect x="99" y="205" width="395" height="1" fill="url(#g60)"/>
<rect x="99" y="326" width="395" height="1" fill="url(#g60)"/>
<rect x="99" y="204" width="395" height="1" fill="url(#g61)"/>
<rect x="99" y="327" width="395" height="1" fill="url(#g61)"/>
<rect x="99" y="203" width="395" height="1" fill="url(#g62)"/>
<rect x="99" y="328" width="395" height="1" fill="url(#g62)"/>
<rect x="99" y="202" width="395" height="1" fill="url(#g63)"/>
<rect x="99" y="329" width="395" height="1" fill="url(#g63)"/>
<rect x="99" y="201" width="395" height="1" fill="url(#g64)"/>
<rect x="99" y="330" width="395" height="1" fill="url(#g64)"/>
<rect x="99" y="200" width="395" height="1" fill="url(#g65)"/>
<rect x="99" y="331" width="395" height="1" fill="url(#g65)"/>
<rect x="99" y="199" width="395" height="1" fill="url(#g66)"/>
<rect x="99" y="332" width="395" height="1" fill="url(#g66)"/>
<rect x="99" y="198" width="395" height="1" fill="url(#g67)"/>
<rect x="99" y="333" width="395" height="1" fill="url(#g67)"/>
<rect x="99" y="197" width="395" height="1" fill="url(#g68)"/>
<rect x="99" y="334" width="395" height="1" fill="url(#g68)"/>
<rect x="99" y="196" width="395" height="1" fill="url(#g69)"/>
<rect x="99" y="335" width="395" height="1" fill="url(#g69)"/>
<rect x="99" y="195" width="395" height="1" fill="url(#g70)"/>
<rect x="99" y="336" width="395" height="1" fill="url(#g70)"/>
<rect x="99" y="194" width="395" height="1" fill="url(#g71)"/>
<rect x="99" y="337" width="395" height="1" fill="url(#g71)"/>
<rect x="99" y="193" width="395" height="1" fill="url(#g72)"/>
<rect x="99" y="338" width="395" height="1" fill="url(#g72)"/>
<rect x="99" y="192" width="395" height="1" fill="url(#g73)"/>
<rect x="99" y="339" width="395" height="1" fill="url(#g73)"/>
<rect x="99" y="191" width="395" height="1" fill="url(#g74)"/>
<rect x="99" y="340" width="395" height="1" fill="url(#g74)"/>
<rect x="99" y="190" width="395" height="1" fill="url(#g75)"/>
<rect x="99" y="341" width="395" height="1" fill="url(#g75)"/>
<rect x="99" y="189" width="395" height="1" fill="url(#g76)"/>
<rect x="99" y="342" width="395" height="1" fill="url(#g76)"/>
<rect x="99" y="188" width="395" height="1" fill="url(#g77)"/>
<rect x="99" y="343" width="395" height="1" fill="url(#g77)"/>
<rect x="99" y="187" width="395" height="1" fill="url(#g78)"/>
<rect x="99" y="344" width="395" height="1" fill="url(#g78)"/>
<rect x="99" y="186" width="395" height="1" fill="url(#g79)"/>
<rect x="99" y="345" width="395" height="1" fill="url(#g79)"/>
<rect x="99" y="185" width="395" height="1" fill="url(#g80)"/>
<rect x="99" y="346" width="395" height="1" fill="url(#g80)"/>
<rect x="99" y="184" width="395" height="1" fill="url(#g81)"/>
<rect x="99" y="347" width="395" height="1" fill="url(#g81)"/>
<rect x="99" y="183" width="395" height="1" fill="url(#g82)"/>
<rect x="99" y="348" width="395" height="1" fill="url(#g82)"/>
<rect x="99" y="182" width="395" height="1" fill="url(#g83)"/>
<rect x="99" y="349" width="395" height="1" fill="url(#g83)"/>
<rect x="99" y="181" width="395" height="1" fill="url(#g84)"/>
<rect x="99" y="350" width="395" height="1" fill="url(#g84)"/>
<rect x="99" y="180" width="395" height="1" fill="url(#g85)"/>
<rect x="99" y="351" width="395" height="1" fill="url(#g85)"/>
<rect x="99" y="179" width="395" height="1" fill="url(#g86)"/>
<rect x="99" y="352" width="395" height="1" fill="url(#g86)"/>
<rect x="99" y="178" width="395" height="1" fill="url(#g87)"/>
<rect x="99" y="353" width="395" height="1" fill="url(#g87)"/>
<rect x="99" y="177" width="395" height="1" fill="url(#g88)"/>
<rect x="99" y="354" width="395" height="1" fill="url(#g88)"/>
<rect x="99" y="176" width="395" height="1" fill="url(#g89)"/>
<rect x="99" y="355" width="395" height="1" fill="url(#g89)"/>
<rect x="99" y="175" width="395" height="1" fill="url(#g90)"/>
<rect x="99" y="356" width="395" height="1" fill="url(#g90)"/>
<rect x="99" y="174" width="395" height="1" fill="url(#g91)"/>
<rect x="99" y="357" width="395" height="1" fill="url(#g91)"/>
<rect x="99" y="173" width="395" height="1" fill="url(#g92)"/>
<rect x="99" y="358" width="395" height="1" fill="url(#g92)"/>
<rect x="99" y="172" width="395" height="1" fill="url(#g93)"/>
<rect x="99" y="359" width="395" height="1" fill="url(#g93)"/>
<rect x="99" y="171" width="395" height="1" fill="url(#g94)"/>
<rect x="99" y="360" width="395" height="1" fill="url(#g94)"/>
<rect x="99" y="170" width="395" height="1" fill="url(#g95)"/>
<rect x="99" y="361" width="395" height="1" fill="url(#g95)"/>
<rect x="99" y="169" width="395" height="1" fill="url(#g96)"/>
<rect x="99" y="362" width="395" height="1" fill="url(#g96)"/>
<rect x="99" y="168" width="395" height="1" fill="url(#g97)"/>
<rect x="99" y="363" width="395" height="1" fill="url(#g97)"/>
<rect x="99" y="167" width="395" height="1" fill="url(#g98)"/>
<rect x="99" y="364" width="395" height="1" fill="url(#g98)"/>
<rect x="99" y="166" width="395" height="1" fill="url(#g99)"/>
<rect x="99" y="365" width="395" height="1" fill="url(#g99)"/>
<rect x="99" y="165" width="395" height="1" fill="url(#g100)"/>
<rect x="99" y="366" width="395" height="1" fill="url(#g100)"/>
<rect x="99" y="164" width="395" height="1" fill="url(#g101)"/>
<rect x="99" y="367" width="395" height="1" fill="url(#g101)"/>
<rect x="99" y="163" width="395" height="1" fill="url(#g102)"/>
<rect x="99" y="368" width="395" height="1" fill="url(#g102)"/>
<rect x="99" y="162" width="395" height="1" fill="url(#g103)"/>
<rect x="99" y="369" width="395" height="1" fill="url(#g103)"/>
<rect x="99" y="161" width="395" height="1" fill="url(#g104)"/>
<rect x="99" y="370" width="395" height="1" fill="url(#g104)"/>
<rect x="99" y="160" width="395" height="1" fill="url(#g105)"/>
<rect x="99" y="371" width="395" height="1" fill="url(#g105)"/>
<rect x="99" y="159" width="395" height="1" fill="url(#g106)"/>
<rect x="99" y="372" width="395" height="1" fill="url(#g106)"/>
<rect x="99" y="158" width="395" height="1" fill="url(#g107)"/>
<rect x="99" y="373" width="395" height="1" fill="url(#g107)"/>
<rect x="99" y="157" width="395" height="1" fill="url(#g108)"/>
<rect x="99" y="374" width="395" height="1" fill="url(#g108)"/>
<rect x="99" y="156" width="395" height="1" fill="url(#g109)"/>
<rect x="99" y="375" width="395" height="1" fill="url(#g109)"/>
<rect x="99" y="155" width="395" height="1" fill="url(#g110)"/>
<rect x="99" y="376" width="395" height="1" fill="url(#g110)"/>
<rect x="99" y="154" width="395" height="1" fill="url(#g111)"/>
<rect x="99" y="377" width="395" height="1" fill="url(#g111)"/>
<rect x="99" y="153" width="395" height="1" fill="url(#g112)"/>
<rect x="99" y="378" width="395" height="1" fill="url(#g112)"/>
<rect x="99" y="152" width="395" height="1" fill="url(#g113)"/>
<rect x="99" y="379" width="395" height="1" fill="url(#g113)"/>
<rect x="99" y="151" width="395" height="1" fill="url(#g114)"/>
<rect x="99" y="380" width="395" height="1" fill="url(#g114)"/>
<rect x="99" y="150" width="395" height="1" fill="url(#g115)"/>
<rect x="99" y="381" width="395" height="1" fill="url(#g115)"/>
<rect x="99" y="148" width="395" height="2" fill="url(#g116)"/>
<rect x="99" y="382" width="395" height="2" fill="url(#g116)"/>
<rect x="99" y="146" width="395" height="2" fill="url(#g117)"/>
<rect x="99" y="384" width="395" height="2" fill="url(#g117)"/>
<rect x="99" y="27" width="395" height="119" fill="#00008f"/>
<rect x="99" y="386" width="395" height="119" fill="#00008f"/>
</g>
<g filter="url(#b2)">
<rect x="179.9" y="30" width="2.2" height="471" fill="#2a78c0" opacity="0.62"/>
<g stroke="#3a5cff" stroke-width="2.4" fill="none" opacity="0.11">
<path d="M358 150.0 L490 201.0 M382 154.0 L490 195.0 M404 158.0 L490 190.0"/>
</g>
<g stroke="#3a5cff" stroke-width="2.4" fill="none" opacity="0.11">
<path d="M358 382.0 L490 331.0 M382 378.0 L490 337.0 M404 374.0 L490 342.0"/>
</g>
<g stroke="#eef2ff" stroke-width="2.9" stroke-dasharray="4 5.9" fill="none" opacity="0.62">
<path d="M184.0 219.3 L312.0 266.0 L491.0 332.8"/>
<path d="M184.0 312.7 L312.0 266.0 L491.0 199.2"/>
</g></g>
<g filter="url(#b2)">
<text class="w" transform="translate(103.6 99.6) scale(1.07 1)" font-size="31">PEC</text>
<text class="w" transform="translate(110.6 467) scale(0.965 1)" font-size="33.6">PEC</text>
<text class="w" transform="translate(273.2 106.4) scale(0.93 1)" font-size="33">HMM</text>
</g>
</g>
<g filter="url(#b3)">
<path d="M101.6 30.7 H491.6" stroke="#05050f" stroke-width="2" fill="none"/>
<path d="M102.5 30 V501" stroke="#0a0a30" stroke-width="1.5" fill="none"/>
<path d="M101.8 500.6 H491.6" stroke="#05050f" stroke-width="1.6" fill="none"/>
<path d="M490.8 30 V501" stroke="#05050f" stroke-width="2" fill="none"/>
<path d="M231.7 501.0 v-5 M231.7 30.0 v5 M361.3 501.0 v-5 M361.3 30.0 v5 M102.0 89.1 h5.5 M491.0 89.1 h-5.5 M102.0 147.9 h5.5 M491.0 147.9 h-5.5 M102.0 206.8 h5.5 M491.0 206.8 h-5.5 M102.0 265.7 h5.5 M491.0 265.7 h-5.5 M102.0 324.6 h5.5 M491.0 324.6 h-5.5 M102.0 383.4 h5.5 M491.0 383.4 h-5.5 M102.0 442.3 h5.5 M491.0 442.3 h-5.5" stroke="#0a0a14" stroke-width="2" fill="none" opacity="0.9"/>
</g>
<text class="t" x="92.8" y="37.4" text-anchor="end">2</text>
<text class="t" x="92.8" y="96.4" text-anchor="end">1.5</text>
<text class="t" x="92.8" y="155.4" text-anchor="end">1</text>
<text class="t" x="92.8" y="214.4" text-anchor="end">0.5</text>
<text class="t" x="92.8" y="273.4" text-anchor="end">0</text>
<text class="t" x="92.8" y="332.4" text-anchor="end">−0.5</text>
<text class="t" x="92.8" y="391.4" text-anchor="end">−1</text>
<text class="t" x="92.8" y="450.4" text-anchor="end">−1.5</text>
<text class="t" x="92.8" y="509.4" text-anchor="end">−2</text>
<text class="t" x="101.2" y="524.6" text-anchor="middle">0</text>
<text class="t" x="230.9" y="524.6" text-anchor="middle">0.5</text>
<text class="t" x="360.5" y="524.6" text-anchor="middle">1</text>
<text class="t" x="489.2" y="524.6" text-anchor="middle">1.5</text>
<text class="i" x="296.5" y="555.8" text-anchor="middle" letter-spacing="1.8">z/λ</text>
<text class="i" transform="translate(35.6 265) rotate(-90)" text-anchor="middle" letter-spacing="1.8">x/λ</text>
<g filter="url(#b3)">
<rect x="520.5" y="30.5" width="26" height="469" fill="url(#cb)"/>
<rect x="520.9" y="30.9" width="25.2" height="468.2" fill="none" stroke="#000" stroke-opacity="0.55" stroke-width="1.2"/>
<path d="M520.5 30.9 H546.5 M520.5 499.3 H546.5" stroke="#111" stroke-width="1.8"/>
<path d="M520.5 451.7 h5.5 M546.5 451.7 h-5.5 M520.5 405.0 h5.5 M546.5 405.0 h-5.5 M520.5 358.4 h5.5 M546.5 358.4 h-5.5 M520.5 311.7 h5.5 M546.5 311.7 h-5.5 M520.5 265.1 h5.5 M546.5 265.1 h-5.5 M520.5 218.5 h5.5 M546.5 218.5 h-5.5 M520.5 171.8 h5.5 M546.5 171.8 h-5.5 M520.5 125.2 h5.5 M546.5 125.2 h-5.5 M520.5 78.5 h5.5 M546.5 78.5 h-5.5" stroke="#0a0a14" stroke-width="2.2" fill="none"/>
</g>
<text class="t" x="556.6" y="504.9">0</text>
<text class="t" x="556.6" y="458.3">0.1</text>
<text class="t" x="556.6" y="411.6">0.2</text>
<text class="t" x="556.6" y="365.0">0.3</text>
<text class="t" x="556.6" y="318.3">0.4</text>
<text class="t" x="556.6" y="271.7">0.5</text>
<text class="t" x="556.6" y="225.1">0.6</text>
<text class="t" x="556.6" y="178.4">0.7</text>
<text class="t" x="556.6" y="131.8">0.8</text>
<text class="t" x="556.6" y="85.1">0.9</text>
<text class="t" x="556.6" y="37.5">1</text>
</svg></body></html>
